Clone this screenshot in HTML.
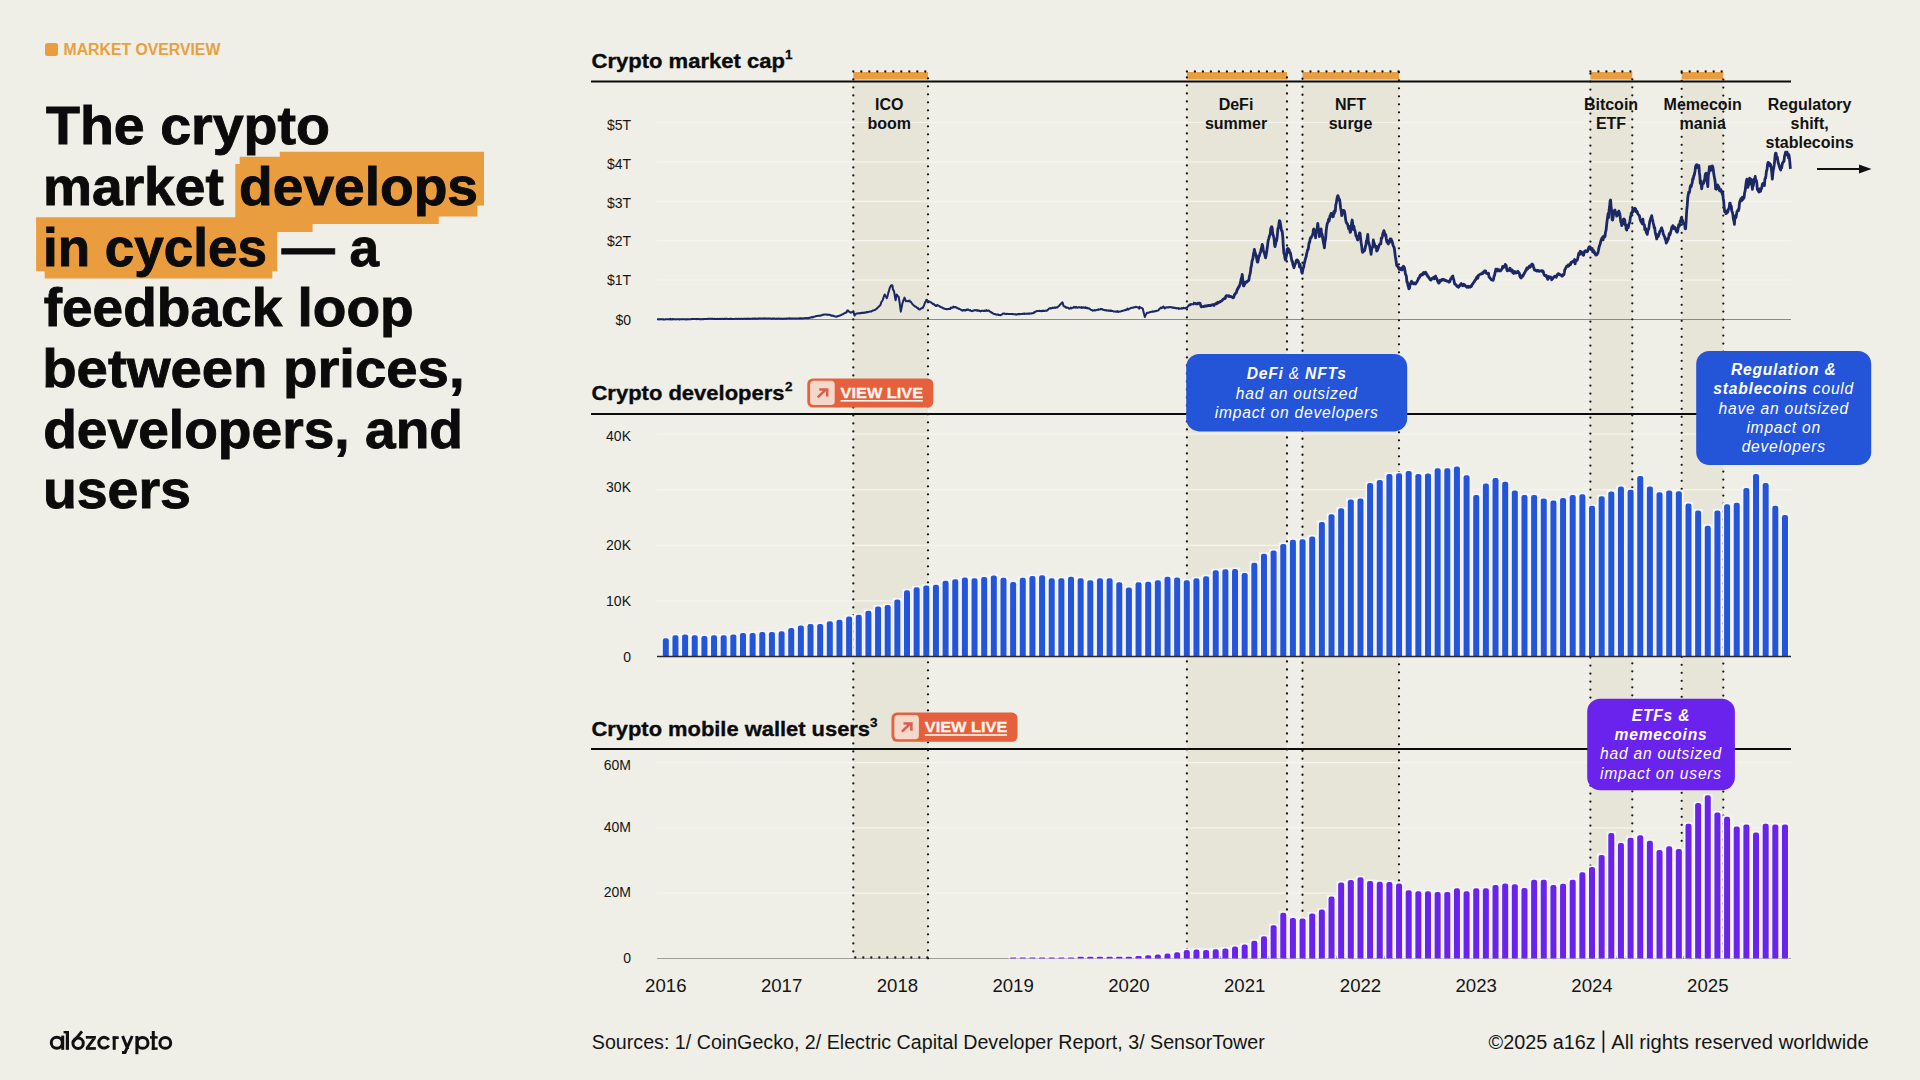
<!DOCTYPE html><html><head><meta charset="utf-8"><style>
html,body{margin:0;padding:0;width:1920px;height:1080px;overflow:hidden;background:#EFEEE7;}
svg{position:absolute;left:0;top:0;} text{font-family:"Liberation Sans", sans-serif;}
</style></head><body>
<svg width="1920" height="1080" viewBox="0 0 1920 1080">
<rect x="45" y="43" width="13" height="13" rx="2.5" fill="#EA9D3E"/>
<text x="63.5" y="55.3" font-size="15.8" font-weight="700" fill="#E9A03E">MARKET OVERVIEW</text>
<polygon points="279.8,151.7 484.0,151.7 484.0,205.6 477.4,205.6 477.4,216.6 438.8,216.6 438.8,223.9 312.6,223.9 312.6,232.0 277.2,232.0 277.2,271.2 272.3,271.2 272.3,278.5 44.7,278.5 44.7,271.2 36.1,271.2 36.1,217.3 235.3,217.3 235.3,164.0 239.7,164.0 239.7,156.8 279.8,156.8" fill="#EA9D3E"/>
<text x="46.0" y="144.3" font-size="54.5" font-weight="700" textLength="284.0" lengthAdjust="spacingAndGlyphs" stroke="#0B0B0B" stroke-width="0.9" fill="#0B0B0B">The crypto</text>
<text x="43.0" y="205.0" font-size="54.5" font-weight="700" textLength="435.0" lengthAdjust="spacingAndGlyphs" stroke="#0B0B0B" stroke-width="0.9" fill="#0B0B0B">market develops</text>
<text x="43.0" y="265.6" font-size="54.5" font-weight="700" textLength="336.0" lengthAdjust="spacingAndGlyphs" stroke="#0B0B0B" stroke-width="0.9" fill="#0B0B0B">in cycles — a</text>
<text x="43.7" y="326.3" font-size="54.5" font-weight="700" textLength="370.0" lengthAdjust="spacingAndGlyphs" stroke="#0B0B0B" stroke-width="0.9" fill="#0B0B0B">feedback loop</text>
<text x="42.2" y="387.0" font-size="54.5" font-weight="700" textLength="422.4" lengthAdjust="spacingAndGlyphs" stroke="#0B0B0B" stroke-width="0.9" fill="#0B0B0B">between prices,</text>
<text x="43.2" y="447.7" font-size="54.5" font-weight="700" textLength="419.8" lengthAdjust="spacingAndGlyphs" stroke="#0B0B0B" stroke-width="0.9" fill="#0B0B0B">developers, and</text>
<text x="42.9" y="508.3" font-size="54.5" font-weight="700" textLength="148.0" lengthAdjust="spacingAndGlyphs" stroke="#0B0B0B" stroke-width="0.9" fill="#0B0B0B">users</text>
<rect x="853.3" y="82" width="74.7" height="876.5" fill="#E7E5D8"/>
<rect x="1186.9" y="82" width="100.1" height="876.5" fill="#E7E5D8"/>
<rect x="1302.5" y="82" width="96.5" height="876.5" fill="#E7E5D8"/>
<rect x="1590.4" y="82" width="41.9" height="876.5" fill="#E7E5D8"/>
<rect x="1681.7" y="82" width="41.6" height="876.5" fill="#E7E5D8"/>
<line x1="657" y1="280.1" x2="1791" y2="280.1" stroke="#F5F4EE" stroke-width="1.2"/>
<line x1="657" y1="240.7" x2="1791" y2="240.7" stroke="#F5F4EE" stroke-width="1.2"/>
<line x1="657" y1="201.3" x2="1791" y2="201.3" stroke="#F5F4EE" stroke-width="1.2"/>
<line x1="657" y1="161.9" x2="1791" y2="161.9" stroke="#F5F4EE" stroke-width="1.2"/>
<line x1="657" y1="122.5" x2="1791" y2="122.5" stroke="#F5F4EE" stroke-width="1.2"/>
<line x1="657" y1="600.9" x2="1791" y2="600.9" stroke="#F5F4EE" stroke-width="1.2"/>
<line x1="657" y1="545.3" x2="1791" y2="545.3" stroke="#F5F4EE" stroke-width="1.2"/>
<line x1="657" y1="489.7" x2="1791" y2="489.7" stroke="#F5F4EE" stroke-width="1.2"/>
<line x1="657" y1="434.1" x2="1791" y2="434.1" stroke="#F5F4EE" stroke-width="1.2"/>
<line x1="657" y1="893.2" x2="1791" y2="893.2" stroke="#F5F4EE" stroke-width="1.2"/>
<line x1="657" y1="827.9" x2="1791" y2="827.9" stroke="#F5F4EE" stroke-width="1.2"/>
<line x1="657" y1="762.6" x2="1791" y2="762.6" stroke="#F5F4EE" stroke-width="1.2"/>
<line x1="657" y1="319.5" x2="1791" y2="319.5" stroke="#8C8A84" stroke-width="1.0"/>
<line x1="657" y1="958.5" x2="1791" y2="958.5" stroke="#A09E98" stroke-width="1.2"/>
<line x1="591" y1="81.5" x2="1791" y2="81.5" stroke="#0B0B0B" stroke-width="2.2"/>
<line x1="591" y1="414.0" x2="1791" y2="414.0" stroke="#0B0B0B" stroke-width="2.2"/>
<line x1="591" y1="749.0" x2="1791" y2="749.0" stroke="#0B0B0B" stroke-width="2.2"/>
<text x="889.3" y="109.5" font-size="16" font-weight="700" text-anchor="middle" fill="#111">ICO</text>
<text x="889.3" y="128.7" font-size="16" font-weight="700" text-anchor="middle" fill="#111">boom</text>
<text x="1236.0" y="109.5" font-size="16" font-weight="700" text-anchor="middle" fill="#111">DeFi</text>
<text x="1236.0" y="128.7" font-size="16" font-weight="700" text-anchor="middle" fill="#111">summer</text>
<text x="1350.5" y="109.5" font-size="16" font-weight="700" text-anchor="middle" fill="#111">NFT</text>
<text x="1350.5" y="128.7" font-size="16" font-weight="700" text-anchor="middle" fill="#111">surge</text>
<text x="1611.0" y="109.5" font-size="16" font-weight="700" text-anchor="middle" fill="#111">Bitcoin</text>
<text x="1611.0" y="128.7" font-size="16" font-weight="700" text-anchor="middle" fill="#111">ETF</text>
<text x="1702.7" y="109.5" font-size="16" font-weight="700" text-anchor="middle" fill="#111">Memecoin</text>
<text x="1702.7" y="128.7" font-size="16" font-weight="700" text-anchor="middle" fill="#111">mania</text>
<text x="1809.6" y="109.5" font-size="16" font-weight="700" text-anchor="middle" fill="#111">Regulatory</text>
<text x="1809.6" y="128.7" font-size="16" font-weight="700" text-anchor="middle" fill="#111">shift,</text>
<text x="1809.6" y="147.9" font-size="16" font-weight="700" text-anchor="middle" fill="#111">stablecoins</text>
<rect x="853.3" y="72" width="74.7" height="7.5" fill="#EA9D3E"/>
<line x1="853.3" y1="79.40" x2="853.3" y2="958.5" stroke="#1A1A1A" stroke-width="2.3" stroke-linecap="round" stroke-dasharray="0 8"/>
<line x1="928.0" y1="78.30" x2="928.0" y2="958.5" stroke="#1A1A1A" stroke-width="2.3" stroke-linecap="round" stroke-dasharray="0 8"/>
<line x1="853.3" y1="71.5" x2="928.0" y2="71.5" stroke="#1A1A1A" stroke-width="2.3" stroke-linecap="round" stroke-dasharray="0 8"/>
<line x1="855.3" y1="957.5" x2="928.0" y2="957.5" stroke="#1A1A1A" stroke-width="2.3" stroke-linecap="round" stroke-dasharray="0 8"/>
<rect x="1186.9" y="72" width="100.1" height="7.5" fill="#EA9D3E"/>
<line x1="1186.9" y1="77.40" x2="1186.9" y2="958.5" stroke="#1A1A1A" stroke-width="2.3" stroke-linecap="round" stroke-dasharray="0 8"/>
<line x1="1287.0" y1="77.50" x2="1287.0" y2="958.5" stroke="#1A1A1A" stroke-width="2.3" stroke-linecap="round" stroke-dasharray="0 8"/>
<line x1="1186.9" y1="71.5" x2="1287.0" y2="71.5" stroke="#1A1A1A" stroke-width="2.3" stroke-linecap="round" stroke-dasharray="0 8"/>
<line x1="1188.9" y1="957.5" x2="1287.0" y2="957.5" stroke="#1A1A1A" stroke-width="2.3" stroke-linecap="round" stroke-dasharray="0 8"/>
<rect x="1302.5" y="72" width="96.5" height="7.5" fill="#EA9D3E"/>
<line x1="1302.5" y1="78.75" x2="1302.5" y2="958.5" stroke="#1A1A1A" stroke-width="2.3" stroke-linecap="round" stroke-dasharray="0 8"/>
<line x1="1399.0" y1="72.35" x2="1399.0" y2="958.5" stroke="#1A1A1A" stroke-width="2.3" stroke-linecap="round" stroke-dasharray="0 8"/>
<line x1="1302.5" y1="71.5" x2="1399.0" y2="71.5" stroke="#1A1A1A" stroke-width="2.3" stroke-linecap="round" stroke-dasharray="0 8"/>
<line x1="1304.5" y1="957.5" x2="1399.0" y2="957.5" stroke="#1A1A1A" stroke-width="2.3" stroke-linecap="round" stroke-dasharray="0 8"/>
<rect x="1590.4" y="72" width="41.9" height="7.5" fill="#EA9D3E"/>
<line x1="1590.4" y1="73.55" x2="1590.4" y2="958.5" stroke="#1A1A1A" stroke-width="2.3" stroke-linecap="round" stroke-dasharray="0 8"/>
<line x1="1632.3" y1="79.35" x2="1632.3" y2="958.5" stroke="#1A1A1A" stroke-width="2.3" stroke-linecap="round" stroke-dasharray="0 8"/>
<line x1="1590.4" y1="71.5" x2="1632.3" y2="71.5" stroke="#1A1A1A" stroke-width="2.3" stroke-linecap="round" stroke-dasharray="0 8"/>
<line x1="1592.4" y1="957.5" x2="1632.3" y2="957.5" stroke="#1A1A1A" stroke-width="2.3" stroke-linecap="round" stroke-dasharray="0 8"/>
<rect x="1681.7" y="72" width="41.6" height="7.5" fill="#EA9D3E"/>
<line x1="1681.7" y1="72.85" x2="1681.7" y2="958.5" stroke="#1A1A1A" stroke-width="2.3" stroke-linecap="round" stroke-dasharray="0 8"/>
<line x1="1723.3" y1="79.60" x2="1723.3" y2="958.5" stroke="#1A1A1A" stroke-width="2.3" stroke-linecap="round" stroke-dasharray="0 8"/>
<line x1="1681.7" y1="71.5" x2="1723.3" y2="71.5" stroke="#1A1A1A" stroke-width="2.3" stroke-linecap="round" stroke-dasharray="0 8"/>
<line x1="1683.7" y1="957.5" x2="1723.3" y2="957.5" stroke="#1A1A1A" stroke-width="2.3" stroke-linecap="round" stroke-dasharray="0 8"/>
<g fill="#F4F6FB">
<rect x="661.10" y="636.90" width="9.40" height="19.60"/>
<rect x="670.75" y="633.80" width="9.40" height="22.70"/>
<rect x="680.40" y="633.00" width="9.40" height="23.50"/>
<rect x="690.04" y="633.80" width="9.40" height="22.70"/>
<rect x="699.69" y="634.60" width="9.40" height="21.90"/>
<rect x="709.34" y="633.80" width="9.40" height="22.70"/>
<rect x="718.99" y="633.80" width="9.40" height="22.70"/>
<rect x="728.64" y="633.00" width="9.40" height="23.50"/>
<rect x="738.28" y="631.50" width="9.40" height="25.00"/>
<rect x="747.93" y="631.50" width="9.40" height="25.00"/>
<rect x="757.58" y="630.70" width="9.40" height="25.80"/>
<rect x="767.23" y="630.70" width="9.40" height="25.80"/>
<rect x="776.88" y="629.90" width="9.40" height="26.60"/>
<rect x="786.52" y="626.70" width="9.40" height="29.80"/>
<rect x="796.17" y="624.20" width="9.40" height="32.30"/>
<rect x="805.82" y="622.60" width="9.40" height="33.90"/>
<rect x="815.47" y="622.60" width="9.40" height="33.90"/>
<rect x="825.12" y="619.90" width="9.40" height="36.60"/>
<rect x="834.76" y="618.40" width="9.40" height="38.10"/>
<rect x="844.41" y="615.00" width="9.40" height="41.50"/>
<rect x="854.06" y="613.30" width="9.40" height="43.20"/>
<rect x="863.71" y="609.40" width="9.40" height="47.10"/>
<rect x="873.36" y="605.00" width="9.40" height="51.50"/>
<rect x="883.00" y="603.60" width="9.40" height="52.90"/>
<rect x="892.65" y="598.00" width="9.40" height="58.50"/>
<rect x="902.30" y="588.80" width="9.40" height="67.70"/>
<rect x="911.95" y="585.90" width="9.40" height="70.60"/>
<rect x="921.60" y="584.10" width="9.40" height="72.40"/>
<rect x="931.24" y="583.40" width="9.40" height="73.10"/>
<rect x="940.89" y="579.40" width="9.40" height="77.10"/>
<rect x="950.54" y="577.90" width="9.40" height="78.60"/>
<rect x="960.19" y="576.10" width="9.40" height="80.40"/>
<rect x="969.84" y="576.90" width="9.40" height="79.60"/>
<rect x="979.48" y="575.50" width="9.40" height="81.00"/>
<rect x="989.13" y="574.00" width="9.40" height="82.50"/>
<rect x="998.78" y="576.30" width="9.40" height="80.20"/>
<rect x="1008.43" y="580.70" width="9.40" height="75.80"/>
<rect x="1018.08" y="576.30" width="9.40" height="80.20"/>
<rect x="1027.72" y="574.70" width="9.40" height="81.80"/>
<rect x="1037.37" y="573.90" width="9.40" height="82.60"/>
<rect x="1047.02" y="576.90" width="9.40" height="79.60"/>
<rect x="1056.67" y="576.90" width="9.40" height="79.60"/>
<rect x="1066.32" y="575.40" width="9.40" height="81.10"/>
<rect x="1075.96" y="576.90" width="9.40" height="79.60"/>
<rect x="1085.61" y="578.80" width="9.40" height="77.70"/>
<rect x="1095.26" y="576.90" width="9.40" height="79.60"/>
<rect x="1104.91" y="576.90" width="9.40" height="79.60"/>
<rect x="1114.56" y="580.90" width="9.40" height="75.60"/>
<rect x="1124.20" y="586.10" width="9.40" height="70.40"/>
<rect x="1133.85" y="580.90" width="9.40" height="75.60"/>
<rect x="1143.50" y="580.30" width="9.40" height="76.20"/>
<rect x="1153.15" y="578.80" width="9.40" height="77.70"/>
<rect x="1162.80" y="575.40" width="9.40" height="81.10"/>
<rect x="1172.44" y="576.20" width="9.40" height="80.30"/>
<rect x="1182.09" y="578.80" width="9.40" height="77.70"/>
<rect x="1191.74" y="576.90" width="9.40" height="79.60"/>
<rect x="1201.39" y="574.85" width="9.40" height="81.65"/>
<rect x="1211.04" y="568.80" width="9.40" height="87.70"/>
<rect x="1220.68" y="567.80" width="9.40" height="88.70"/>
<rect x="1230.33" y="567.70" width="9.40" height="88.80"/>
<rect x="1239.98" y="571.70" width="9.40" height="84.80"/>
<rect x="1249.63" y="561.40" width="9.40" height="95.10"/>
<rect x="1259.28" y="552.30" width="9.40" height="104.20"/>
<rect x="1268.92" y="549.10" width="9.40" height="107.40"/>
<rect x="1278.57" y="542.60" width="9.40" height="113.90"/>
<rect x="1288.22" y="538.30" width="9.40" height="118.20"/>
<rect x="1297.87" y="537.80" width="9.40" height="118.70"/>
<rect x="1307.52" y="535.20" width="9.40" height="121.30"/>
<rect x="1317.16" y="520.50" width="9.40" height="136.00"/>
<rect x="1326.81" y="512.80" width="9.40" height="143.70"/>
<rect x="1336.46" y="506.90" width="9.40" height="149.60"/>
<rect x="1346.11" y="498.10" width="9.40" height="158.40"/>
<rect x="1355.76" y="497.20" width="9.40" height="159.30"/>
<rect x="1365.40" y="481.60" width="9.40" height="174.90"/>
<rect x="1375.05" y="478.70" width="9.40" height="177.80"/>
<rect x="1384.70" y="472.60" width="9.40" height="183.90"/>
<rect x="1394.35" y="471.90" width="9.40" height="184.60"/>
<rect x="1404.00" y="469.60" width="9.40" height="186.90"/>
<rect x="1413.64" y="472.70" width="9.40" height="183.80"/>
<rect x="1423.29" y="472.00" width="9.40" height="184.50"/>
<rect x="1432.94" y="466.80" width="9.40" height="189.70"/>
<rect x="1442.59" y="466.80" width="9.40" height="189.70"/>
<rect x="1452.24" y="465.10" width="9.40" height="191.40"/>
<rect x="1461.88" y="473.80" width="9.40" height="182.70"/>
<rect x="1471.53" y="493.60" width="9.40" height="162.90"/>
<rect x="1481.18" y="482.10" width="9.40" height="174.40"/>
<rect x="1490.83" y="476.70" width="9.40" height="179.80"/>
<rect x="1500.48" y="480.40" width="9.40" height="176.10"/>
<rect x="1510.12" y="489.00" width="9.40" height="167.50"/>
<rect x="1519.77" y="493.60" width="9.40" height="162.90"/>
<rect x="1529.42" y="493.60" width="9.40" height="162.90"/>
<rect x="1539.07" y="497.00" width="9.40" height="159.50"/>
<rect x="1548.72" y="499.10" width="9.40" height="157.40"/>
<rect x="1558.36" y="496.70" width="9.40" height="159.80"/>
<rect x="1568.01" y="493.60" width="9.40" height="162.90"/>
<rect x="1577.66" y="492.90" width="9.40" height="163.60"/>
<rect x="1587.31" y="504.30" width="9.40" height="152.20"/>
<rect x="1596.96" y="494.90" width="9.40" height="161.60"/>
<rect x="1606.60" y="490.00" width="9.40" height="166.50"/>
<rect x="1616.25" y="485.20" width="9.40" height="171.30"/>
<rect x="1625.90" y="488.30" width="9.40" height="168.20"/>
<rect x="1635.55" y="474.70" width="9.40" height="181.80"/>
<rect x="1645.20" y="485.20" width="9.40" height="171.30"/>
<rect x="1654.84" y="490.90" width="9.40" height="165.60"/>
<rect x="1664.49" y="489.00" width="9.40" height="167.50"/>
<rect x="1674.14" y="489.85" width="9.40" height="166.65"/>
<rect x="1683.79" y="502.10" width="9.40" height="154.40"/>
<rect x="1693.44" y="509.10" width="9.40" height="147.40"/>
<rect x="1703.08" y="524.40" width="9.40" height="132.10"/>
<rect x="1712.73" y="509.10" width="9.40" height="147.40"/>
<rect x="1722.38" y="502.90" width="9.40" height="153.60"/>
<rect x="1732.03" y="501.30" width="9.40" height="155.20"/>
<rect x="1741.68" y="486.50" width="9.40" height="170.00"/>
<rect x="1751.32" y="472.70" width="9.40" height="183.80"/>
<rect x="1760.97" y="481.70" width="9.40" height="174.80"/>
<rect x="1770.62" y="504.40" width="9.40" height="152.10"/>
<rect x="1780.27" y="513.60" width="9.40" height="142.90"/>
<rect x="1008.43" y="956.10" width="9.40" height="2.40"/>
<rect x="1018.08" y="956.10" width="9.40" height="2.40"/>
<rect x="1027.72" y="956.10" width="9.40" height="2.40"/>
<rect x="1037.37" y="956.10" width="9.40" height="2.40"/>
<rect x="1047.02" y="956.10" width="9.40" height="2.40"/>
<rect x="1056.67" y="956.10" width="9.40" height="2.40"/>
<rect x="1066.32" y="956.10" width="9.40" height="2.40"/>
<rect x="1075.96" y="955.30" width="9.40" height="3.20"/>
<rect x="1085.61" y="955.30" width="9.40" height="3.20"/>
<rect x="1095.26" y="955.30" width="9.40" height="3.20"/>
<rect x="1104.91" y="955.30" width="9.40" height="3.20"/>
<rect x="1114.56" y="955.30" width="9.40" height="3.20"/>
<rect x="1124.20" y="955.30" width="9.40" height="3.20"/>
<rect x="1133.85" y="954.60" width="9.40" height="3.90"/>
<rect x="1143.50" y="953.80" width="9.40" height="4.70"/>
<rect x="1153.15" y="953.10" width="9.40" height="5.40"/>
<rect x="1162.80" y="952.20" width="9.40" height="6.30"/>
<rect x="1172.44" y="950.85" width="9.40" height="7.65"/>
<rect x="1182.09" y="948.60" width="9.40" height="9.90"/>
<rect x="1191.74" y="948.10" width="9.40" height="10.40"/>
<rect x="1201.39" y="948.50" width="9.40" height="10.00"/>
<rect x="1211.04" y="947.80" width="9.40" height="10.70"/>
<rect x="1220.68" y="947.00" width="9.40" height="11.50"/>
<rect x="1230.33" y="945.20" width="9.40" height="13.30"/>
<rect x="1239.98" y="943.10" width="9.40" height="15.40"/>
<rect x="1249.63" y="939.40" width="9.40" height="19.10"/>
<rect x="1259.28" y="934.90" width="9.40" height="23.60"/>
<rect x="1268.92" y="923.80" width="9.40" height="34.70"/>
<rect x="1278.57" y="911.30" width="9.40" height="47.20"/>
<rect x="1288.22" y="916.50" width="9.40" height="42.00"/>
<rect x="1297.87" y="917.00" width="9.40" height="41.50"/>
<rect x="1307.52" y="912.00" width="9.40" height="46.50"/>
<rect x="1317.16" y="908.10" width="9.40" height="50.40"/>
<rect x="1326.81" y="895.10" width="9.40" height="63.40"/>
<rect x="1336.46" y="881.10" width="9.40" height="77.40"/>
<rect x="1346.11" y="878.70" width="9.40" height="79.80"/>
<rect x="1355.76" y="875.90" width="9.40" height="82.60"/>
<rect x="1365.40" y="879.50" width="9.40" height="79.00"/>
<rect x="1375.05" y="880.30" width="9.40" height="78.20"/>
<rect x="1384.70" y="880.60" width="9.40" height="77.90"/>
<rect x="1394.35" y="882.10" width="9.40" height="76.40"/>
<rect x="1404.00" y="888.90" width="9.40" height="69.60"/>
<rect x="1413.64" y="889.90" width="9.40" height="68.60"/>
<rect x="1423.29" y="889.90" width="9.40" height="68.60"/>
<rect x="1432.94" y="890.50" width="9.40" height="68.00"/>
<rect x="1442.59" y="890.50" width="9.40" height="68.00"/>
<rect x="1452.24" y="886.80" width="9.40" height="71.70"/>
<rect x="1461.88" y="889.90" width="9.40" height="68.60"/>
<rect x="1471.53" y="886.80" width="9.40" height="71.70"/>
<rect x="1481.18" y="886.80" width="9.40" height="71.70"/>
<rect x="1490.83" y="883.50" width="9.40" height="75.00"/>
<rect x="1500.48" y="882.10" width="9.40" height="76.40"/>
<rect x="1510.12" y="882.90" width="9.40" height="75.60"/>
<rect x="1519.77" y="886.60" width="9.40" height="71.90"/>
<rect x="1529.42" y="878.30" width="9.40" height="80.20"/>
<rect x="1539.07" y="878.30" width="9.40" height="80.20"/>
<rect x="1548.72" y="883.70" width="9.40" height="74.80"/>
<rect x="1558.36" y="882.30" width="9.40" height="76.20"/>
<rect x="1568.01" y="878.30" width="9.40" height="80.20"/>
<rect x="1577.66" y="870.90" width="9.40" height="87.60"/>
<rect x="1587.31" y="865.50" width="9.40" height="93.00"/>
<rect x="1596.96" y="853.50" width="9.40" height="105.00"/>
<rect x="1606.60" y="831.50" width="9.40" height="127.00"/>
<rect x="1616.25" y="841.50" width="9.40" height="117.00"/>
<rect x="1625.90" y="836.30" width="9.40" height="122.20"/>
<rect x="1635.55" y="833.80" width="9.40" height="124.70"/>
<rect x="1645.20" y="839.40" width="9.40" height="119.10"/>
<rect x="1654.84" y="848.70" width="9.40" height="109.80"/>
<rect x="1664.49" y="844.90" width="9.40" height="113.60"/>
<rect x="1674.14" y="847.50" width="9.40" height="111.00"/>
<rect x="1683.79" y="822.30" width="9.40" height="136.20"/>
<rect x="1693.44" y="801.70" width="9.40" height="156.80"/>
<rect x="1703.08" y="793.90" width="9.40" height="164.60"/>
<rect x="1712.73" y="811.00" width="9.40" height="147.50"/>
<rect x="1722.38" y="815.40" width="9.40" height="143.10"/>
<rect x="1732.03" y="825.20" width="9.40" height="133.30"/>
<rect x="1741.68" y="823.00" width="9.40" height="135.50"/>
<rect x="1751.32" y="831.20" width="9.40" height="127.30"/>
<rect x="1760.97" y="822.30" width="9.40" height="136.20"/>
<rect x="1770.62" y="823.00" width="9.40" height="135.50"/>
<rect x="1780.27" y="823.00" width="9.40" height="135.50"/>
</g>
<path d="M662.80 656.50 V640.50 Q662.80 638.30 665.00 638.30 H666.60 Q668.80 638.30 668.80 640.50 V656.50 Z" fill="#2455D9"/>
<path d="M672.45 656.50 V637.40 Q672.45 635.20 674.65 635.20 H676.25 Q678.45 635.20 678.45 637.40 V656.50 Z" fill="#2455D9"/>
<path d="M682.10 656.50 V636.60 Q682.10 634.40 684.30 634.40 H685.90 Q688.10 634.40 688.10 636.60 V656.50 Z" fill="#2455D9"/>
<path d="M691.74 656.50 V637.40 Q691.74 635.20 693.94 635.20 H695.54 Q697.74 635.20 697.74 637.40 V656.50 Z" fill="#2455D9"/>
<path d="M701.39 656.50 V638.20 Q701.39 636.00 703.59 636.00 H705.19 Q707.39 636.00 707.39 638.20 V656.50 Z" fill="#2455D9"/>
<path d="M711.04 656.50 V637.40 Q711.04 635.20 713.24 635.20 H714.84 Q717.04 635.20 717.04 637.40 V656.50 Z" fill="#2455D9"/>
<path d="M720.69 656.50 V637.40 Q720.69 635.20 722.89 635.20 H724.49 Q726.69 635.20 726.69 637.40 V656.50 Z" fill="#2455D9"/>
<path d="M730.34 656.50 V636.60 Q730.34 634.40 732.54 634.40 H734.14 Q736.34 634.40 736.34 636.60 V656.50 Z" fill="#2455D9"/>
<path d="M739.98 656.50 V635.10 Q739.98 632.90 742.18 632.90 H743.78 Q745.98 632.90 745.98 635.10 V656.50 Z" fill="#2455D9"/>
<path d="M749.63 656.50 V635.10 Q749.63 632.90 751.83 632.90 H753.43 Q755.63 632.90 755.63 635.10 V656.50 Z" fill="#2455D9"/>
<path d="M759.28 656.50 V634.30 Q759.28 632.10 761.48 632.10 H763.08 Q765.28 632.10 765.28 634.30 V656.50 Z" fill="#2455D9"/>
<path d="M768.93 656.50 V634.30 Q768.93 632.10 771.13 632.10 H772.73 Q774.93 632.10 774.93 634.30 V656.50 Z" fill="#2455D9"/>
<path d="M778.58 656.50 V633.50 Q778.58 631.30 780.78 631.30 H782.38 Q784.58 631.30 784.58 633.50 V656.50 Z" fill="#2455D9"/>
<path d="M788.22 656.50 V630.30 Q788.22 628.10 790.42 628.10 H792.02 Q794.22 628.10 794.22 630.30 V656.50 Z" fill="#2455D9"/>
<path d="M797.87 656.50 V627.80 Q797.87 625.60 800.07 625.60 H801.67 Q803.87 625.60 803.87 627.80 V656.50 Z" fill="#2455D9"/>
<path d="M807.52 656.50 V626.20 Q807.52 624.00 809.72 624.00 H811.32 Q813.52 624.00 813.52 626.20 V656.50 Z" fill="#2455D9"/>
<path d="M817.17 656.50 V626.20 Q817.17 624.00 819.37 624.00 H820.97 Q823.17 624.00 823.17 626.20 V656.50 Z" fill="#2455D9"/>
<path d="M826.82 656.50 V623.50 Q826.82 621.30 829.02 621.30 H830.62 Q832.82 621.30 832.82 623.50 V656.50 Z" fill="#2455D9"/>
<path d="M836.46 656.50 V622.00 Q836.46 619.80 838.66 619.80 H840.26 Q842.46 619.80 842.46 622.00 V656.50 Z" fill="#2455D9"/>
<path d="M846.11 656.50 V618.60 Q846.11 616.40 848.31 616.40 H849.91 Q852.11 616.40 852.11 618.60 V656.50 Z" fill="#2455D9"/>
<path d="M855.76 656.50 V616.90 Q855.76 614.70 857.96 614.70 H859.56 Q861.76 614.70 861.76 616.90 V656.50 Z" fill="#2455D9"/>
<path d="M865.41 656.50 V613.00 Q865.41 610.80 867.61 610.80 H869.21 Q871.41 610.80 871.41 613.00 V656.50 Z" fill="#2455D9"/>
<path d="M875.06 656.50 V608.60 Q875.06 606.40 877.26 606.40 H878.86 Q881.06 606.40 881.06 608.60 V656.50 Z" fill="#2455D9"/>
<path d="M884.70 656.50 V607.20 Q884.70 605.00 886.90 605.00 H888.50 Q890.70 605.00 890.70 607.20 V656.50 Z" fill="#2455D9"/>
<path d="M894.35 656.50 V601.60 Q894.35 599.40 896.55 599.40 H898.15 Q900.35 599.40 900.35 601.60 V656.50 Z" fill="#2455D9"/>
<path d="M904.00 656.50 V592.40 Q904.00 590.20 906.20 590.20 H907.80 Q910.00 590.20 910.00 592.40 V656.50 Z" fill="#2455D9"/>
<path d="M913.65 656.50 V589.50 Q913.65 587.30 915.85 587.30 H917.45 Q919.65 587.30 919.65 589.50 V656.50 Z" fill="#2455D9"/>
<path d="M923.30 656.50 V587.70 Q923.30 585.50 925.50 585.50 H927.10 Q929.30 585.50 929.30 587.70 V656.50 Z" fill="#2455D9"/>
<path d="M932.94 656.50 V587.00 Q932.94 584.80 935.14 584.80 H936.74 Q938.94 584.80 938.94 587.00 V656.50 Z" fill="#2455D9"/>
<path d="M942.59 656.50 V583.00 Q942.59 580.80 944.79 580.80 H946.39 Q948.59 580.80 948.59 583.00 V656.50 Z" fill="#2455D9"/>
<path d="M952.24 656.50 V581.50 Q952.24 579.30 954.44 579.30 H956.04 Q958.24 579.30 958.24 581.50 V656.50 Z" fill="#2455D9"/>
<path d="M961.89 656.50 V579.70 Q961.89 577.50 964.09 577.50 H965.69 Q967.89 577.50 967.89 579.70 V656.50 Z" fill="#2455D9"/>
<path d="M971.54 656.50 V580.50 Q971.54 578.30 973.74 578.30 H975.34 Q977.54 578.30 977.54 580.50 V656.50 Z" fill="#2455D9"/>
<path d="M981.18 656.50 V579.10 Q981.18 576.90 983.38 576.90 H984.98 Q987.18 576.90 987.18 579.10 V656.50 Z" fill="#2455D9"/>
<path d="M990.83 656.50 V577.60 Q990.83 575.40 993.03 575.40 H994.63 Q996.83 575.40 996.83 577.60 V656.50 Z" fill="#2455D9"/>
<path d="M1000.48 656.50 V579.90 Q1000.48 577.70 1002.68 577.70 H1004.28 Q1006.48 577.70 1006.48 579.90 V656.50 Z" fill="#2455D9"/>
<path d="M1010.13 656.50 V584.30 Q1010.13 582.10 1012.33 582.10 H1013.93 Q1016.13 582.10 1016.13 584.30 V656.50 Z" fill="#2455D9"/>
<path d="M1019.78 656.50 V579.90 Q1019.78 577.70 1021.98 577.70 H1023.58 Q1025.78 577.70 1025.78 579.90 V656.50 Z" fill="#2455D9"/>
<path d="M1029.42 656.50 V578.30 Q1029.42 576.10 1031.62 576.10 H1033.22 Q1035.42 576.10 1035.42 578.30 V656.50 Z" fill="#2455D9"/>
<path d="M1039.07 656.50 V577.50 Q1039.07 575.30 1041.27 575.30 H1042.87 Q1045.07 575.30 1045.07 577.50 V656.50 Z" fill="#2455D9"/>
<path d="M1048.72 656.50 V580.50 Q1048.72 578.30 1050.92 578.30 H1052.52 Q1054.72 578.30 1054.72 580.50 V656.50 Z" fill="#2455D9"/>
<path d="M1058.37 656.50 V580.50 Q1058.37 578.30 1060.57 578.30 H1062.17 Q1064.37 578.30 1064.37 580.50 V656.50 Z" fill="#2455D9"/>
<path d="M1068.02 656.50 V579.00 Q1068.02 576.80 1070.22 576.80 H1071.82 Q1074.02 576.80 1074.02 579.00 V656.50 Z" fill="#2455D9"/>
<path d="M1077.66 656.50 V580.50 Q1077.66 578.30 1079.86 578.30 H1081.46 Q1083.66 578.30 1083.66 580.50 V656.50 Z" fill="#2455D9"/>
<path d="M1087.31 656.50 V582.40 Q1087.31 580.20 1089.51 580.20 H1091.11 Q1093.31 580.20 1093.31 582.40 V656.50 Z" fill="#2455D9"/>
<path d="M1096.96 656.50 V580.50 Q1096.96 578.30 1099.16 578.30 H1100.76 Q1102.96 578.30 1102.96 580.50 V656.50 Z" fill="#2455D9"/>
<path d="M1106.61 656.50 V580.50 Q1106.61 578.30 1108.81 578.30 H1110.41 Q1112.61 578.30 1112.61 580.50 V656.50 Z" fill="#2455D9"/>
<path d="M1116.26 656.50 V584.50 Q1116.26 582.30 1118.46 582.30 H1120.06 Q1122.26 582.30 1122.26 584.50 V656.50 Z" fill="#2455D9"/>
<path d="M1125.90 656.50 V589.70 Q1125.90 587.50 1128.10 587.50 H1129.70 Q1131.90 587.50 1131.90 589.70 V656.50 Z" fill="#2455D9"/>
<path d="M1135.55 656.50 V584.50 Q1135.55 582.30 1137.75 582.30 H1139.35 Q1141.55 582.30 1141.55 584.50 V656.50 Z" fill="#2455D9"/>
<path d="M1145.20 656.50 V583.90 Q1145.20 581.70 1147.40 581.70 H1149.00 Q1151.20 581.70 1151.20 583.90 V656.50 Z" fill="#2455D9"/>
<path d="M1154.85 656.50 V582.40 Q1154.85 580.20 1157.05 580.20 H1158.65 Q1160.85 580.20 1160.85 582.40 V656.50 Z" fill="#2455D9"/>
<path d="M1164.50 656.50 V579.00 Q1164.50 576.80 1166.70 576.80 H1168.30 Q1170.50 576.80 1170.50 579.00 V656.50 Z" fill="#2455D9"/>
<path d="M1174.14 656.50 V579.80 Q1174.14 577.60 1176.34 577.60 H1177.94 Q1180.14 577.60 1180.14 579.80 V656.50 Z" fill="#2455D9"/>
<path d="M1183.79 656.50 V582.40 Q1183.79 580.20 1185.99 580.20 H1187.59 Q1189.79 580.20 1189.79 582.40 V656.50 Z" fill="#2455D9"/>
<path d="M1193.44 656.50 V580.50 Q1193.44 578.30 1195.64 578.30 H1197.24 Q1199.44 578.30 1199.44 580.50 V656.50 Z" fill="#2455D9"/>
<path d="M1203.09 656.50 V578.45 Q1203.09 576.25 1205.29 576.25 H1206.89 Q1209.09 576.25 1209.09 578.45 V656.50 Z" fill="#2455D9"/>
<path d="M1212.74 656.50 V572.40 Q1212.74 570.20 1214.94 570.20 H1216.54 Q1218.74 570.20 1218.74 572.40 V656.50 Z" fill="#2455D9"/>
<path d="M1222.38 656.50 V571.40 Q1222.38 569.20 1224.58 569.20 H1226.18 Q1228.38 569.20 1228.38 571.40 V656.50 Z" fill="#2455D9"/>
<path d="M1232.03 656.50 V571.30 Q1232.03 569.10 1234.23 569.10 H1235.83 Q1238.03 569.10 1238.03 571.30 V656.50 Z" fill="#2455D9"/>
<path d="M1241.68 656.50 V575.30 Q1241.68 573.10 1243.88 573.10 H1245.48 Q1247.68 573.10 1247.68 575.30 V656.50 Z" fill="#2455D9"/>
<path d="M1251.33 656.50 V565.00 Q1251.33 562.80 1253.53 562.80 H1255.13 Q1257.33 562.80 1257.33 565.00 V656.50 Z" fill="#2455D9"/>
<path d="M1260.98 656.50 V555.90 Q1260.98 553.70 1263.18 553.70 H1264.78 Q1266.98 553.70 1266.98 555.90 V656.50 Z" fill="#2455D9"/>
<path d="M1270.62 656.50 V552.70 Q1270.62 550.50 1272.82 550.50 H1274.42 Q1276.62 550.50 1276.62 552.70 V656.50 Z" fill="#2455D9"/>
<path d="M1280.27 656.50 V546.20 Q1280.27 544.00 1282.47 544.00 H1284.07 Q1286.27 544.00 1286.27 546.20 V656.50 Z" fill="#2455D9"/>
<path d="M1289.92 656.50 V541.90 Q1289.92 539.70 1292.12 539.70 H1293.72 Q1295.92 539.70 1295.92 541.90 V656.50 Z" fill="#2455D9"/>
<path d="M1299.57 656.50 V541.40 Q1299.57 539.20 1301.77 539.20 H1303.37 Q1305.57 539.20 1305.57 541.40 V656.50 Z" fill="#2455D9"/>
<path d="M1309.22 656.50 V538.80 Q1309.22 536.60 1311.42 536.60 H1313.02 Q1315.22 536.60 1315.22 538.80 V656.50 Z" fill="#2455D9"/>
<path d="M1318.86 656.50 V524.10 Q1318.86 521.90 1321.06 521.90 H1322.66 Q1324.86 521.90 1324.86 524.10 V656.50 Z" fill="#2455D9"/>
<path d="M1328.51 656.50 V516.40 Q1328.51 514.20 1330.71 514.20 H1332.31 Q1334.51 514.20 1334.51 516.40 V656.50 Z" fill="#2455D9"/>
<path d="M1338.16 656.50 V510.50 Q1338.16 508.30 1340.36 508.30 H1341.96 Q1344.16 508.30 1344.16 510.50 V656.50 Z" fill="#2455D9"/>
<path d="M1347.81 656.50 V501.70 Q1347.81 499.50 1350.01 499.50 H1351.61 Q1353.81 499.50 1353.81 501.70 V656.50 Z" fill="#2455D9"/>
<path d="M1357.46 656.50 V500.80 Q1357.46 498.60 1359.66 498.60 H1361.26 Q1363.46 498.60 1363.46 500.80 V656.50 Z" fill="#2455D9"/>
<path d="M1367.10 656.50 V485.20 Q1367.10 483.00 1369.30 483.00 H1370.90 Q1373.10 483.00 1373.10 485.20 V656.50 Z" fill="#2455D9"/>
<path d="M1376.75 656.50 V482.30 Q1376.75 480.10 1378.95 480.10 H1380.55 Q1382.75 480.10 1382.75 482.30 V656.50 Z" fill="#2455D9"/>
<path d="M1386.40 656.50 V476.20 Q1386.40 474.00 1388.60 474.00 H1390.20 Q1392.40 474.00 1392.40 476.20 V656.50 Z" fill="#2455D9"/>
<path d="M1396.05 656.50 V475.50 Q1396.05 473.30 1398.25 473.30 H1399.85 Q1402.05 473.30 1402.05 475.50 V656.50 Z" fill="#2455D9"/>
<path d="M1405.70 656.50 V473.20 Q1405.70 471.00 1407.90 471.00 H1409.50 Q1411.70 471.00 1411.70 473.20 V656.50 Z" fill="#2455D9"/>
<path d="M1415.34 656.50 V476.30 Q1415.34 474.10 1417.54 474.10 H1419.14 Q1421.34 474.10 1421.34 476.30 V656.50 Z" fill="#2455D9"/>
<path d="M1424.99 656.50 V475.60 Q1424.99 473.40 1427.19 473.40 H1428.79 Q1430.99 473.40 1430.99 475.60 V656.50 Z" fill="#2455D9"/>
<path d="M1434.64 656.50 V470.40 Q1434.64 468.20 1436.84 468.20 H1438.44 Q1440.64 468.20 1440.64 470.40 V656.50 Z" fill="#2455D9"/>
<path d="M1444.29 656.50 V470.40 Q1444.29 468.20 1446.49 468.20 H1448.09 Q1450.29 468.20 1450.29 470.40 V656.50 Z" fill="#2455D9"/>
<path d="M1453.94 656.50 V468.70 Q1453.94 466.50 1456.14 466.50 H1457.74 Q1459.94 466.50 1459.94 468.70 V656.50 Z" fill="#2455D9"/>
<path d="M1463.58 656.50 V477.40 Q1463.58 475.20 1465.78 475.20 H1467.38 Q1469.58 475.20 1469.58 477.40 V656.50 Z" fill="#2455D9"/>
<path d="M1473.23 656.50 V497.20 Q1473.23 495.00 1475.43 495.00 H1477.03 Q1479.23 495.00 1479.23 497.20 V656.50 Z" fill="#2455D9"/>
<path d="M1482.88 656.50 V485.70 Q1482.88 483.50 1485.08 483.50 H1486.68 Q1488.88 483.50 1488.88 485.70 V656.50 Z" fill="#2455D9"/>
<path d="M1492.53 656.50 V480.30 Q1492.53 478.10 1494.73 478.10 H1496.33 Q1498.53 478.10 1498.53 480.30 V656.50 Z" fill="#2455D9"/>
<path d="M1502.18 656.50 V484.00 Q1502.18 481.80 1504.38 481.80 H1505.98 Q1508.18 481.80 1508.18 484.00 V656.50 Z" fill="#2455D9"/>
<path d="M1511.82 656.50 V492.60 Q1511.82 490.40 1514.02 490.40 H1515.62 Q1517.82 490.40 1517.82 492.60 V656.50 Z" fill="#2455D9"/>
<path d="M1521.47 656.50 V497.20 Q1521.47 495.00 1523.67 495.00 H1525.27 Q1527.47 495.00 1527.47 497.20 V656.50 Z" fill="#2455D9"/>
<path d="M1531.12 656.50 V497.20 Q1531.12 495.00 1533.32 495.00 H1534.92 Q1537.12 495.00 1537.12 497.20 V656.50 Z" fill="#2455D9"/>
<path d="M1540.77 656.50 V500.60 Q1540.77 498.40 1542.97 498.40 H1544.57 Q1546.77 498.40 1546.77 500.60 V656.50 Z" fill="#2455D9"/>
<path d="M1550.42 656.50 V502.70 Q1550.42 500.50 1552.62 500.50 H1554.22 Q1556.42 500.50 1556.42 502.70 V656.50 Z" fill="#2455D9"/>
<path d="M1560.06 656.50 V500.30 Q1560.06 498.10 1562.26 498.10 H1563.86 Q1566.06 498.10 1566.06 500.30 V656.50 Z" fill="#2455D9"/>
<path d="M1569.71 656.50 V497.20 Q1569.71 495.00 1571.91 495.00 H1573.51 Q1575.71 495.00 1575.71 497.20 V656.50 Z" fill="#2455D9"/>
<path d="M1579.36 656.50 V496.50 Q1579.36 494.30 1581.56 494.30 H1583.16 Q1585.36 494.30 1585.36 496.50 V656.50 Z" fill="#2455D9"/>
<path d="M1589.01 656.50 V507.90 Q1589.01 505.70 1591.21 505.70 H1592.81 Q1595.01 505.70 1595.01 507.90 V656.50 Z" fill="#2455D9"/>
<path d="M1598.66 656.50 V498.50 Q1598.66 496.30 1600.86 496.30 H1602.46 Q1604.66 496.30 1604.66 498.50 V656.50 Z" fill="#2455D9"/>
<path d="M1608.30 656.50 V493.60 Q1608.30 491.40 1610.50 491.40 H1612.10 Q1614.30 491.40 1614.30 493.60 V656.50 Z" fill="#2455D9"/>
<path d="M1617.95 656.50 V488.80 Q1617.95 486.60 1620.15 486.60 H1621.75 Q1623.95 486.60 1623.95 488.80 V656.50 Z" fill="#2455D9"/>
<path d="M1627.60 656.50 V491.90 Q1627.60 489.70 1629.80 489.70 H1631.40 Q1633.60 489.70 1633.60 491.90 V656.50 Z" fill="#2455D9"/>
<path d="M1637.25 656.50 V478.30 Q1637.25 476.10 1639.45 476.10 H1641.05 Q1643.25 476.10 1643.25 478.30 V656.50 Z" fill="#2455D9"/>
<path d="M1646.90 656.50 V488.80 Q1646.90 486.60 1649.10 486.60 H1650.70 Q1652.90 486.60 1652.90 488.80 V656.50 Z" fill="#2455D9"/>
<path d="M1656.54 656.50 V494.50 Q1656.54 492.30 1658.74 492.30 H1660.34 Q1662.54 492.30 1662.54 494.50 V656.50 Z" fill="#2455D9"/>
<path d="M1666.19 656.50 V492.60 Q1666.19 490.40 1668.39 490.40 H1669.99 Q1672.19 490.40 1672.19 492.60 V656.50 Z" fill="#2455D9"/>
<path d="M1675.84 656.50 V493.45 Q1675.84 491.25 1678.04 491.25 H1679.64 Q1681.84 491.25 1681.84 493.45 V656.50 Z" fill="#2455D9"/>
<path d="M1685.49 656.50 V505.70 Q1685.49 503.50 1687.69 503.50 H1689.29 Q1691.49 503.50 1691.49 505.70 V656.50 Z" fill="#2455D9"/>
<path d="M1695.14 656.50 V512.70 Q1695.14 510.50 1697.34 510.50 H1698.94 Q1701.14 510.50 1701.14 512.70 V656.50 Z" fill="#2455D9"/>
<path d="M1704.78 656.50 V528.00 Q1704.78 525.80 1706.98 525.80 H1708.58 Q1710.78 525.80 1710.78 528.00 V656.50 Z" fill="#2455D9"/>
<path d="M1714.43 656.50 V512.70 Q1714.43 510.50 1716.63 510.50 H1718.23 Q1720.43 510.50 1720.43 512.70 V656.50 Z" fill="#2455D9"/>
<path d="M1724.08 656.50 V506.50 Q1724.08 504.30 1726.28 504.30 H1727.88 Q1730.08 504.30 1730.08 506.50 V656.50 Z" fill="#2455D9"/>
<path d="M1733.73 656.50 V504.90 Q1733.73 502.70 1735.93 502.70 H1737.53 Q1739.73 502.70 1739.73 504.90 V656.50 Z" fill="#2455D9"/>
<path d="M1743.38 656.50 V490.10 Q1743.38 487.90 1745.58 487.90 H1747.18 Q1749.38 487.90 1749.38 490.10 V656.50 Z" fill="#2455D9"/>
<path d="M1753.02 656.50 V476.30 Q1753.02 474.10 1755.22 474.10 H1756.82 Q1759.02 474.10 1759.02 476.30 V656.50 Z" fill="#2455D9"/>
<path d="M1762.67 656.50 V485.30 Q1762.67 483.10 1764.87 483.10 H1766.47 Q1768.67 483.10 1768.67 485.30 V656.50 Z" fill="#2455D9"/>
<path d="M1772.32 656.50 V508.00 Q1772.32 505.80 1774.52 505.80 H1776.12 Q1778.32 505.80 1778.32 508.00 V656.50 Z" fill="#2455D9"/>
<path d="M1781.97 656.50 V517.20 Q1781.97 515.00 1784.17 515.00 H1785.77 Q1787.97 515.00 1787.97 517.20 V656.50 Z" fill="#2455D9"/>
<path d="M1010.13 958.50 V958.00 Q1010.13 957.50 1010.63 957.50 H1015.63 Q1016.13 957.50 1016.13 958.00 V958.50 Z" fill="#6923EC"/>
<path d="M1019.78 958.50 V958.00 Q1019.78 957.50 1020.28 957.50 H1025.28 Q1025.78 957.50 1025.78 958.00 V958.50 Z" fill="#6923EC"/>
<path d="M1029.42 958.50 V958.00 Q1029.42 957.50 1029.92 957.50 H1034.92 Q1035.42 957.50 1035.42 958.00 V958.50 Z" fill="#6923EC"/>
<path d="M1039.07 958.50 V958.00 Q1039.07 957.50 1039.57 957.50 H1044.57 Q1045.07 957.50 1045.07 958.00 V958.50 Z" fill="#6923EC"/>
<path d="M1048.72 958.50 V958.00 Q1048.72 957.50 1049.22 957.50 H1054.22 Q1054.72 957.50 1054.72 958.00 V958.50 Z" fill="#6923EC"/>
<path d="M1058.37 958.50 V958.00 Q1058.37 957.50 1058.87 957.50 H1063.87 Q1064.37 957.50 1064.37 958.00 V958.50 Z" fill="#6923EC"/>
<path d="M1068.02 958.50 V958.00 Q1068.02 957.50 1068.52 957.50 H1073.52 Q1074.02 957.50 1074.02 958.00 V958.50 Z" fill="#6923EC"/>
<path d="M1077.66 958.50 V957.60 Q1077.66 956.70 1078.56 956.70 H1082.76 Q1083.66 956.70 1083.66 957.60 V958.50 Z" fill="#6923EC"/>
<path d="M1087.31 958.50 V957.60 Q1087.31 956.70 1088.21 956.70 H1092.41 Q1093.31 956.70 1093.31 957.60 V958.50 Z" fill="#6923EC"/>
<path d="M1096.96 958.50 V957.60 Q1096.96 956.70 1097.86 956.70 H1102.06 Q1102.96 956.70 1102.96 957.60 V958.50 Z" fill="#6923EC"/>
<path d="M1106.61 958.50 V957.60 Q1106.61 956.70 1107.51 956.70 H1111.71 Q1112.61 956.70 1112.61 957.60 V958.50 Z" fill="#6923EC"/>
<path d="M1116.26 958.50 V957.60 Q1116.26 956.70 1117.16 956.70 H1121.36 Q1122.26 956.70 1122.26 957.60 V958.50 Z" fill="#6923EC"/>
<path d="M1125.90 958.50 V957.60 Q1125.90 956.70 1126.80 956.70 H1131.00 Q1131.90 956.70 1131.90 957.60 V958.50 Z" fill="#6923EC"/>
<path d="M1135.55 958.50 V957.25 Q1135.55 956.00 1136.80 956.00 H1140.30 Q1141.55 956.00 1141.55 957.25 V958.50 Z" fill="#6923EC"/>
<path d="M1145.20 958.50 V956.85 Q1145.20 955.20 1146.85 955.20 H1149.55 Q1151.20 955.20 1151.20 956.85 V958.50 Z" fill="#6923EC"/>
<path d="M1154.85 958.50 V956.50 Q1154.85 954.50 1156.85 954.50 H1158.85 Q1160.85 954.50 1160.85 956.50 V958.50 Z" fill="#6923EC"/>
<path d="M1164.50 958.50 V955.80 Q1164.50 953.60 1166.70 953.60 H1168.30 Q1170.50 953.60 1170.50 955.80 V958.50 Z" fill="#6923EC"/>
<path d="M1174.14 958.50 V954.45 Q1174.14 952.25 1176.34 952.25 H1177.94 Q1180.14 952.25 1180.14 954.45 V958.50 Z" fill="#6923EC"/>
<path d="M1183.79 958.50 V952.20 Q1183.79 950.00 1185.99 950.00 H1187.59 Q1189.79 950.00 1189.79 952.20 V958.50 Z" fill="#6923EC"/>
<path d="M1193.44 958.50 V951.70 Q1193.44 949.50 1195.64 949.50 H1197.24 Q1199.44 949.50 1199.44 951.70 V958.50 Z" fill="#6923EC"/>
<path d="M1203.09 958.50 V952.10 Q1203.09 949.90 1205.29 949.90 H1206.89 Q1209.09 949.90 1209.09 952.10 V958.50 Z" fill="#6923EC"/>
<path d="M1212.74 958.50 V951.40 Q1212.74 949.20 1214.94 949.20 H1216.54 Q1218.74 949.20 1218.74 951.40 V958.50 Z" fill="#6923EC"/>
<path d="M1222.38 958.50 V950.60 Q1222.38 948.40 1224.58 948.40 H1226.18 Q1228.38 948.40 1228.38 950.60 V958.50 Z" fill="#6923EC"/>
<path d="M1232.03 958.50 V948.80 Q1232.03 946.60 1234.23 946.60 H1235.83 Q1238.03 946.60 1238.03 948.80 V958.50 Z" fill="#6923EC"/>
<path d="M1241.68 958.50 V946.70 Q1241.68 944.50 1243.88 944.50 H1245.48 Q1247.68 944.50 1247.68 946.70 V958.50 Z" fill="#6923EC"/>
<path d="M1251.33 958.50 V943.00 Q1251.33 940.80 1253.53 940.80 H1255.13 Q1257.33 940.80 1257.33 943.00 V958.50 Z" fill="#6923EC"/>
<path d="M1260.98 958.50 V938.50 Q1260.98 936.30 1263.18 936.30 H1264.78 Q1266.98 936.30 1266.98 938.50 V958.50 Z" fill="#6923EC"/>
<path d="M1270.62 958.50 V927.40 Q1270.62 925.20 1272.82 925.20 H1274.42 Q1276.62 925.20 1276.62 927.40 V958.50 Z" fill="#6923EC"/>
<path d="M1280.27 958.50 V914.90 Q1280.27 912.70 1282.47 912.70 H1284.07 Q1286.27 912.70 1286.27 914.90 V958.50 Z" fill="#6923EC"/>
<path d="M1289.92 958.50 V920.10 Q1289.92 917.90 1292.12 917.90 H1293.72 Q1295.92 917.90 1295.92 920.10 V958.50 Z" fill="#6923EC"/>
<path d="M1299.57 958.50 V920.60 Q1299.57 918.40 1301.77 918.40 H1303.37 Q1305.57 918.40 1305.57 920.60 V958.50 Z" fill="#6923EC"/>
<path d="M1309.22 958.50 V915.60 Q1309.22 913.40 1311.42 913.40 H1313.02 Q1315.22 913.40 1315.22 915.60 V958.50 Z" fill="#6923EC"/>
<path d="M1318.86 958.50 V911.70 Q1318.86 909.50 1321.06 909.50 H1322.66 Q1324.86 909.50 1324.86 911.70 V958.50 Z" fill="#6923EC"/>
<path d="M1328.51 958.50 V898.70 Q1328.51 896.50 1330.71 896.50 H1332.31 Q1334.51 896.50 1334.51 898.70 V958.50 Z" fill="#6923EC"/>
<path d="M1338.16 958.50 V884.70 Q1338.16 882.50 1340.36 882.50 H1341.96 Q1344.16 882.50 1344.16 884.70 V958.50 Z" fill="#6923EC"/>
<path d="M1347.81 958.50 V882.30 Q1347.81 880.10 1350.01 880.10 H1351.61 Q1353.81 880.10 1353.81 882.30 V958.50 Z" fill="#6923EC"/>
<path d="M1357.46 958.50 V879.50 Q1357.46 877.30 1359.66 877.30 H1361.26 Q1363.46 877.30 1363.46 879.50 V958.50 Z" fill="#6923EC"/>
<path d="M1367.10 958.50 V883.10 Q1367.10 880.90 1369.30 880.90 H1370.90 Q1373.10 880.90 1373.10 883.10 V958.50 Z" fill="#6923EC"/>
<path d="M1376.75 958.50 V883.90 Q1376.75 881.70 1378.95 881.70 H1380.55 Q1382.75 881.70 1382.75 883.90 V958.50 Z" fill="#6923EC"/>
<path d="M1386.40 958.50 V884.20 Q1386.40 882.00 1388.60 882.00 H1390.20 Q1392.40 882.00 1392.40 884.20 V958.50 Z" fill="#6923EC"/>
<path d="M1396.05 958.50 V885.70 Q1396.05 883.50 1398.25 883.50 H1399.85 Q1402.05 883.50 1402.05 885.70 V958.50 Z" fill="#6923EC"/>
<path d="M1405.70 958.50 V892.50 Q1405.70 890.30 1407.90 890.30 H1409.50 Q1411.70 890.30 1411.70 892.50 V958.50 Z" fill="#6923EC"/>
<path d="M1415.34 958.50 V893.50 Q1415.34 891.30 1417.54 891.30 H1419.14 Q1421.34 891.30 1421.34 893.50 V958.50 Z" fill="#6923EC"/>
<path d="M1424.99 958.50 V893.50 Q1424.99 891.30 1427.19 891.30 H1428.79 Q1430.99 891.30 1430.99 893.50 V958.50 Z" fill="#6923EC"/>
<path d="M1434.64 958.50 V894.10 Q1434.64 891.90 1436.84 891.90 H1438.44 Q1440.64 891.90 1440.64 894.10 V958.50 Z" fill="#6923EC"/>
<path d="M1444.29 958.50 V894.10 Q1444.29 891.90 1446.49 891.90 H1448.09 Q1450.29 891.90 1450.29 894.10 V958.50 Z" fill="#6923EC"/>
<path d="M1453.94 958.50 V890.40 Q1453.94 888.20 1456.14 888.20 H1457.74 Q1459.94 888.20 1459.94 890.40 V958.50 Z" fill="#6923EC"/>
<path d="M1463.58 958.50 V893.50 Q1463.58 891.30 1465.78 891.30 H1467.38 Q1469.58 891.30 1469.58 893.50 V958.50 Z" fill="#6923EC"/>
<path d="M1473.23 958.50 V890.40 Q1473.23 888.20 1475.43 888.20 H1477.03 Q1479.23 888.20 1479.23 890.40 V958.50 Z" fill="#6923EC"/>
<path d="M1482.88 958.50 V890.40 Q1482.88 888.20 1485.08 888.20 H1486.68 Q1488.88 888.20 1488.88 890.40 V958.50 Z" fill="#6923EC"/>
<path d="M1492.53 958.50 V887.10 Q1492.53 884.90 1494.73 884.90 H1496.33 Q1498.53 884.90 1498.53 887.10 V958.50 Z" fill="#6923EC"/>
<path d="M1502.18 958.50 V885.70 Q1502.18 883.50 1504.38 883.50 H1505.98 Q1508.18 883.50 1508.18 885.70 V958.50 Z" fill="#6923EC"/>
<path d="M1511.82 958.50 V886.50 Q1511.82 884.30 1514.02 884.30 H1515.62 Q1517.82 884.30 1517.82 886.50 V958.50 Z" fill="#6923EC"/>
<path d="M1521.47 958.50 V890.20 Q1521.47 888.00 1523.67 888.00 H1525.27 Q1527.47 888.00 1527.47 890.20 V958.50 Z" fill="#6923EC"/>
<path d="M1531.12 958.50 V881.90 Q1531.12 879.70 1533.32 879.70 H1534.92 Q1537.12 879.70 1537.12 881.90 V958.50 Z" fill="#6923EC"/>
<path d="M1540.77 958.50 V881.90 Q1540.77 879.70 1542.97 879.70 H1544.57 Q1546.77 879.70 1546.77 881.90 V958.50 Z" fill="#6923EC"/>
<path d="M1550.42 958.50 V887.30 Q1550.42 885.10 1552.62 885.10 H1554.22 Q1556.42 885.10 1556.42 887.30 V958.50 Z" fill="#6923EC"/>
<path d="M1560.06 958.50 V885.90 Q1560.06 883.70 1562.26 883.70 H1563.86 Q1566.06 883.70 1566.06 885.90 V958.50 Z" fill="#6923EC"/>
<path d="M1569.71 958.50 V881.90 Q1569.71 879.70 1571.91 879.70 H1573.51 Q1575.71 879.70 1575.71 881.90 V958.50 Z" fill="#6923EC"/>
<path d="M1579.36 958.50 V874.50 Q1579.36 872.30 1581.56 872.30 H1583.16 Q1585.36 872.30 1585.36 874.50 V958.50 Z" fill="#6923EC"/>
<path d="M1589.01 958.50 V869.10 Q1589.01 866.90 1591.21 866.90 H1592.81 Q1595.01 866.90 1595.01 869.10 V958.50 Z" fill="#6923EC"/>
<path d="M1598.66 958.50 V857.10 Q1598.66 854.90 1600.86 854.90 H1602.46 Q1604.66 854.90 1604.66 857.10 V958.50 Z" fill="#6923EC"/>
<path d="M1608.30 958.50 V835.10 Q1608.30 832.90 1610.50 832.90 H1612.10 Q1614.30 832.90 1614.30 835.10 V958.50 Z" fill="#6923EC"/>
<path d="M1617.95 958.50 V845.10 Q1617.95 842.90 1620.15 842.90 H1621.75 Q1623.95 842.90 1623.95 845.10 V958.50 Z" fill="#6923EC"/>
<path d="M1627.60 958.50 V839.90 Q1627.60 837.70 1629.80 837.70 H1631.40 Q1633.60 837.70 1633.60 839.90 V958.50 Z" fill="#6923EC"/>
<path d="M1637.25 958.50 V837.40 Q1637.25 835.20 1639.45 835.20 H1641.05 Q1643.25 835.20 1643.25 837.40 V958.50 Z" fill="#6923EC"/>
<path d="M1646.90 958.50 V843.00 Q1646.90 840.80 1649.10 840.80 H1650.70 Q1652.90 840.80 1652.90 843.00 V958.50 Z" fill="#6923EC"/>
<path d="M1656.54 958.50 V852.30 Q1656.54 850.10 1658.74 850.10 H1660.34 Q1662.54 850.10 1662.54 852.30 V958.50 Z" fill="#6923EC"/>
<path d="M1666.19 958.50 V848.50 Q1666.19 846.30 1668.39 846.30 H1669.99 Q1672.19 846.30 1672.19 848.50 V958.50 Z" fill="#6923EC"/>
<path d="M1675.84 958.50 V851.10 Q1675.84 848.90 1678.04 848.90 H1679.64 Q1681.84 848.90 1681.84 851.10 V958.50 Z" fill="#6923EC"/>
<path d="M1685.49 958.50 V825.90 Q1685.49 823.70 1687.69 823.70 H1689.29 Q1691.49 823.70 1691.49 825.90 V958.50 Z" fill="#6923EC"/>
<path d="M1695.14 958.50 V805.30 Q1695.14 803.10 1697.34 803.10 H1698.94 Q1701.14 803.10 1701.14 805.30 V958.50 Z" fill="#6923EC"/>
<path d="M1704.78 958.50 V797.50 Q1704.78 795.30 1706.98 795.30 H1708.58 Q1710.78 795.30 1710.78 797.50 V958.50 Z" fill="#6923EC"/>
<path d="M1714.43 958.50 V814.60 Q1714.43 812.40 1716.63 812.40 H1718.23 Q1720.43 812.40 1720.43 814.60 V958.50 Z" fill="#6923EC"/>
<path d="M1724.08 958.50 V819.00 Q1724.08 816.80 1726.28 816.80 H1727.88 Q1730.08 816.80 1730.08 819.00 V958.50 Z" fill="#6923EC"/>
<path d="M1733.73 958.50 V828.80 Q1733.73 826.60 1735.93 826.60 H1737.53 Q1739.73 826.60 1739.73 828.80 V958.50 Z" fill="#6923EC"/>
<path d="M1743.38 958.50 V826.60 Q1743.38 824.40 1745.58 824.40 H1747.18 Q1749.38 824.40 1749.38 826.60 V958.50 Z" fill="#6923EC"/>
<path d="M1753.02 958.50 V834.80 Q1753.02 832.60 1755.22 832.60 H1756.82 Q1759.02 832.60 1759.02 834.80 V958.50 Z" fill="#6923EC"/>
<path d="M1762.67 958.50 V825.90 Q1762.67 823.70 1764.87 823.70 H1766.47 Q1768.67 823.70 1768.67 825.90 V958.50 Z" fill="#6923EC"/>
<path d="M1772.32 958.50 V826.60 Q1772.32 824.40 1774.52 824.40 H1776.12 Q1778.32 824.40 1778.32 826.60 V958.50 Z" fill="#6923EC"/>
<path d="M1781.97 958.50 V826.60 Q1781.97 824.40 1784.17 824.40 H1785.77 Q1787.97 824.40 1787.97 826.60 V958.50 Z" fill="#6923EC"/>
<line x1="657" y1="656.5" x2="1791" y2="656.5" stroke="#2A2A2A" stroke-width="1.6"/>
<path d="M657.0 319.3 L657.5 319.3 L658.0 319.2 L658.5 319.3 L659.0 319.4 L659.5 319.2 L660.0 319.2 L660.5 319.4 L661.0 319.2 L661.5 319.3 L662.0 319.2 L662.5 319.3 L663.0 319.4 L663.5 319.3 L664.0 319.4 L664.5 319.4 L665.0 319.4 L665.5 319.3 L666.0 319.2 L666.5 319.2 L667.0 319.3 L667.5 319.2 L668.0 319.2 L668.5 319.3 L669.0 319.2 L669.5 319.4 L670.0 319.3 L670.5 318.9 L671.0 319.3 L671.5 319.6 L672.0 319.4 L672.5 319.0 L673.0 319.4 L673.5 319.2 L674.0 319.2 L674.5 319.3 L675.0 319.3 L675.5 319.4 L676.0 319.3 L676.5 319.3 L677.0 319.2 L677.5 319.2 L678.0 319.2 L678.5 319.2 L679.0 319.4 L679.5 319.3 L680.0 319.4 L680.5 319.2 L681.0 319.2 L681.5 319.3 L682.0 319.3 L682.5 319.3 L683.0 319.1 L683.5 319.3 L684.0 319.3 L684.5 319.2 L685.0 319.2 L685.5 319.4 L686.0 319.3 L686.5 319.4 L687.0 319.3 L687.5 319.2 L688.0 319.4 L688.5 319.2 L689.0 319.2 L689.5 319.3 L690.0 319.2 L690.5 319.2 L691.0 319.2 L691.5 319.1 L692.0 319.1 L692.5 319.1 L693.0 319.1 L693.5 319.1 L694.0 319.1 L694.5 319.1 L695.0 319.1 L695.5 319.0 L696.0 319.0 L696.5 319.0 L697.0 319.2 L697.5 319.1 L698.0 319.1 L698.5 319.1 L699.0 319.1 L699.5 319.2 L700.0 319.2 L700.5 319.2 L701.0 319.1 L701.5 319.2 L702.0 319.2 L702.5 319.2 L703.0 319.1 L703.5 319.2 L704.0 318.9 L704.5 319.1 L705.0 319.1 L705.5 318.9 L706.0 319.0 L706.5 319.0 L707.0 319.0 L707.5 318.9 L708.0 318.7 L708.5 318.8 L709.0 318.7 L709.5 318.8 L710.0 318.8 L710.5 318.8 L711.0 318.8 L711.5 318.7 L712.0 318.9 L712.5 318.7 L713.0 318.9 L713.5 318.9 L714.0 318.9 L714.5 318.8 L715.0 318.9 L715.5 318.9 L716.0 318.9 L716.5 318.9 L717.0 318.8 L717.5 318.9 L718.0 318.9 L718.5 318.9 L719.0 318.9 L719.5 319.0 L720.0 318.8 L720.5 319.0 L721.0 318.9 L721.5 318.9 L722.0 318.8 L722.5 318.8 L723.0 318.9 L723.5 319.0 L724.0 319.0 L724.5 318.8 L725.0 319.0 L725.5 318.8 L726.0 318.8 L726.5 318.8 L727.0 318.7 L727.5 318.9 L728.0 319.0 L728.5 319.0 L729.0 318.9 L729.5 318.9 L730.0 318.8 L730.5 319.0 L731.0 318.8 L731.5 318.8 L732.0 319.0 L732.5 318.9 L733.0 318.9 L733.5 318.9 L734.0 318.9 L734.5 318.9 L735.0 318.9 L735.5 318.7 L736.0 318.8 L736.5 318.8 L737.0 318.9 L737.5 318.9 L738.0 318.8 L738.5 318.7 L739.0 318.8 L739.5 318.9 L740.0 318.9 L740.5 318.8 L741.0 318.8 L741.5 318.8 L742.0 318.9 L742.5 318.9 L743.0 318.8 L743.5 318.8 L744.0 318.7 L744.5 318.7 L745.0 318.9 L745.5 318.7 L746.0 318.7 L746.5 318.9 L747.0 318.8 L747.5 318.7 L748.0 318.9 L748.5 318.6 L749.0 318.8 L749.5 318.9 L750.0 318.8 L750.5 318.8 L751.0 318.8 L751.5 318.8 L752.0 318.7 L752.5 318.6 L753.0 318.7 L753.5 318.7 L754.0 318.6 L754.5 318.7 L755.0 318.4 L755.5 318.7 L756.0 318.7 L756.5 318.6 L757.0 318.8 L757.5 318.7 L758.0 318.6 L758.5 318.7 L759.0 318.4 L759.5 318.6 L760.0 318.6 L760.5 318.4 L761.0 318.4 L761.5 318.6 L762.0 318.5 L762.5 318.6 L763.0 318.5 L763.5 318.4 L764.0 318.4 L764.5 318.3 L765.0 318.4 L765.5 318.5 L766.0 318.4 L766.5 318.4 L767.0 318.5 L767.5 318.6 L768.0 318.6 L768.5 318.6 L769.0 318.4 L769.5 318.6 L770.0 318.6 L770.5 318.5 L771.0 318.5 L771.5 318.8 L772.0 318.7 L772.5 318.6 L773.0 318.7 L773.5 318.5 L774.0 318.6 L774.5 318.6 L775.0 318.6 L775.5 318.8 L776.0 318.7 L776.5 318.7 L777.0 318.6 L777.5 318.8 L778.0 318.6 L778.5 318.6 L779.0 318.6 L779.5 318.8 L780.0 318.7 L780.5 318.7 L781.0 318.6 L781.5 318.7 L782.0 318.7 L782.5 319.0 L783.0 318.7 L783.5 318.8 L784.0 318.6 L784.5 318.7 L785.0 318.7 L785.5 318.7 L786.0 318.6 L786.5 318.7 L787.0 318.6 L787.5 318.5 L788.0 318.5 L788.5 318.5 L789.0 318.5 L789.5 318.3 L790.0 318.5 L790.5 318.5 L791.0 318.4 L791.5 318.4 L792.0 318.6 L792.5 318.4 L793.0 318.4 L793.5 318.4 L794.0 318.4 L794.6 318.5 L795.1 318.5 L795.6 318.5 L796.1 318.4 L796.6 318.4 L797.1 318.4 L797.6 318.6 L798.1 318.5 L798.6 318.4 L799.1 318.4 L799.6 318.3 L800.1 318.4 L800.6 318.3 L801.1 318.4 L801.6 318.3 L802.1 318.4 L802.6 318.4 L803.1 318.3 L803.6 318.2 L804.1 318.3 L804.6 318.2 L805.1 318.2 L805.6 318.1 L806.1 318.0 L806.6 318.1 L807.1 318.0 L807.6 318.3 L808.1 318.1 L808.6 318.0 L809.1 318.0 L809.6 317.8 L810.0 317.7 L810.5 317.4 L811.0 317.5 L811.5 317.3 L812.0 316.9 L812.5 317.1 L812.9 317.4 L813.4 316.9 L813.9 316.7 L814.4 316.7 L814.9 316.6 L815.4 316.4 L815.9 316.1 L816.4 316.1 L816.9 316.1 L817.4 316.1 L817.9 315.9 L818.4 315.7 L818.9 315.8 L819.4 315.7 L819.8 315.7 L820.3 315.4 L820.8 315.7 L821.3 315.4 L821.8 315.2 L822.3 315.0 L822.8 314.7 L823.3 314.6 L823.8 314.8 L824.3 314.6 L824.8 314.6 L825.3 314.6 L825.8 314.6 L826.4 314.5 L826.9 314.8 L827.4 314.5 L828.0 314.9 L828.5 314.7 L829.0 314.8 L829.5 314.8 L830.0 315.0 L830.6 315.4 L831.1 315.3 L831.6 315.7 L832.1 315.4 L832.6 315.6 L833.1 315.9 L833.7 315.8 L834.2 316.2 L834.7 316.4 L835.2 316.4 L835.7 316.5 L836.2 316.7 L836.8 316.5 L837.3 316.5 L837.8 316.1 L838.3 315.9 L838.8 315.9 L839.4 315.7 L839.9 315.6 L840.4 315.3 L840.9 315.0 L841.4 314.9 L841.9 314.6 L842.3 314.4 L842.8 314.2 L843.3 314.0 L843.8 313.7 L844.3 313.3 L844.8 313.1 L845.2 313.0 L845.7 312.4 L846.2 312.6 L846.7 312.2 L847.2 310.4 L847.7 310.8 L848.2 310.6 L848.7 311.6 L849.3 311.7 L849.8 312.0 L850.3 312.4 L850.8 312.7 L851.3 312.2 L851.8 312.2 L852.4 312.0 L852.9 311.9 L853.4 311.7 L854.0 313.7 L854.5 315.6 L855.0 314.8 L855.5 314.4 L856.0 313.8 L856.5 313.6 L857.0 313.5 L857.5 313.4 L857.9 313.5 L858.4 313.2 L858.9 313.4 L859.4 313.3 L859.9 313.1 L860.4 313.2 L860.9 313.2 L861.4 312.9 L861.8 312.8 L862.3 313.0 L862.8 312.8 L863.3 312.9 L863.8 312.7 L864.3 312.9 L864.8 312.4 L865.2 312.3 L865.7 312.6 L866.2 312.5 L866.7 312.1 L867.2 312.0 L867.7 312.2 L868.2 311.9 L868.7 311.9 L869.1 311.8 L869.6 311.5 L870.1 311.5 L870.6 311.5 L871.1 311.6 L871.6 311.3 L872.2 310.8 L872.7 310.5 L873.2 310.6 L873.7 310.4 L874.2 310.1 L874.8 309.9 L875.3 309.8 L875.8 309.4 L876.3 308.8 L876.8 308.8 L877.4 307.9 L877.9 307.5 L878.4 306.8 L879.0 306.5 L879.5 305.8 L880.0 305.4 L880.5 305.1 L881.0 303.2 L881.6 301.7 L882.1 301.0 L882.6 300.2 L883.1 299.0 L883.7 297.0 L884.2 295.7 L884.7 294.5 L885.2 295.5 L885.8 296.3 L886.3 297.3 L886.8 298.1 L887.3 296.9 L887.8 295.1 L888.3 292.8 L888.8 291.4 L889.3 289.5 L889.8 287.9 L890.4 286.6 L890.9 285.6 L891.4 286.3 L892.0 285.1 L892.5 285.6 L893.0 289.8 L893.5 290.0 L894.1 291.8 L894.6 294.5 L895.1 297.9 L895.6 300.2 L896.2 297.3 L896.7 294.5 L897.2 295.2 L897.7 296.0 L898.2 296.3 L898.8 297.1 L899.3 300.8 L899.8 303.8 L900.3 308.0 L900.8 311.7 L901.3 308.8 L901.9 306.3 L902.4 303.3 L902.9 301.9 L903.5 300.0 L904.0 299.2 L904.5 297.6 L905.0 298.9 L905.5 300.4 L906.0 301.2 L906.5 300.8 L907.1 301.1 L907.6 301.3 L908.1 301.3 L908.7 300.8 L909.2 300.7 L909.7 300.6 L910.2 301.8 L910.8 301.7 L911.3 302.6 L911.8 303.1 L912.3 304.0 L912.8 304.3 L913.4 305.1 L913.9 305.6 L914.4 305.9 L914.9 306.4 L915.4 306.7 L916.0 306.8 L916.5 307.2 L917.0 307.8 L917.5 307.9 L918.0 308.0 L918.6 309.2 L919.1 309.5 L919.6 309.6 L920.1 309.3 L920.6 308.8 L921.2 308.5 L921.7 308.2 L922.2 308.0 L922.7 308.0 L923.2 307.0 L923.8 306.0 L924.3 304.5 L924.8 303.1 L925.3 301.8 L925.9 301.5 L926.4 299.7 L926.9 299.9 L927.4 301.3 L927.9 300.8 L928.4 301.2 L928.9 301.4 L929.4 301.4 L930.0 302.2 L930.5 302.3 L931.0 302.3 L931.5 302.7 L932.0 303.3 L932.6 303.8 L933.1 304.2 L933.6 303.8 L934.1 304.3 L934.7 305.1 L935.2 305.1 L935.7 305.9 L936.2 305.9 L936.8 305.9 L937.3 304.9 L937.8 305.4 L938.3 305.4 L938.8 305.9 L939.3 305.9 L939.9 306.7 L940.4 306.9 L940.9 307.2 L941.4 307.2 L941.9 307.5 L942.5 307.7 L943.0 308.0 L943.5 308.5 L944.0 308.5 L944.5 308.4 L945.1 308.9 L945.6 308.9 L946.1 309.0 L946.6 309.2 L947.2 309.2 L947.7 309.0 L948.2 309.0 L948.8 309.0 L949.3 308.8 L949.8 308.5 L950.3 309.0 L950.8 307.6 L951.4 307.7 L951.9 307.9 L952.4 307.7 L952.9 307.3 L953.4 306.5 L954.0 307.4 L954.5 307.1 L955.0 307.0 L955.5 307.0 L956.0 307.5 L956.5 307.4 L956.9 307.6 L957.4 308.3 L957.9 308.3 L958.4 308.7 L958.9 309.0 L959.4 308.8 L959.9 309.1 L960.4 309.4 L960.8 309.6 L961.3 310.2 L961.8 310.0 L962.3 310.6 L962.8 310.2 L963.3 310.1 L963.9 310.4 L964.4 310.0 L964.9 310.4 L965.4 310.3 L965.9 310.5 L966.5 309.6 L967.0 310.0 L967.5 309.6 L968.0 309.3 L968.5 309.9 L969.1 310.2 L969.6 310.4 L970.1 310.0 L970.6 310.6 L971.1 310.9 L971.7 311.1 L972.2 310.8 L972.7 311.1 L973.2 310.6 L973.7 310.5 L974.2 310.5 L974.8 310.1 L975.3 310.3 L975.8 310.1 L976.3 310.5 L976.8 310.3 L977.3 310.7 L977.7 310.3 L978.2 310.5 L978.7 310.6 L979.2 311.0 L979.7 310.8 L980.2 311.4 L980.7 311.0 L981.2 311.1 L981.6 310.8 L982.1 311.0 L982.6 310.7 L983.1 310.8 L983.6 310.9 L984.1 310.9 L984.6 310.6 L985.1 310.9 L985.6 310.5 L986.1 310.7 L986.5 310.1 L987.0 310.6 L987.5 310.9 L988.0 310.7 L988.5 310.4 L989.0 310.8 L989.5 311.2 L990.1 311.7 L990.6 311.8 L991.1 312.1 L991.6 312.8 L992.2 312.8 L992.7 313.2 L993.2 313.4 L993.8 313.9 L994.2 314.0 L994.7 314.0 L995.2 314.2 L995.7 314.2 L996.2 314.6 L996.6 314.7 L997.1 314.6 L997.6 314.6 L998.1 314.5 L998.6 315.0 L999.1 314.9 L999.5 315.0 L1000.0 315.0 L1000.5 315.2 L1001.0 315.0 L1001.5 314.7 L1002.1 314.3 L1002.6 314.0 L1003.1 313.5 L1003.6 313.6 L1004.1 313.6 L1004.6 313.5 L1005.1 313.9 L1005.6 313.9 L1006.1 314.0 L1006.6 313.9 L1007.1 313.7 L1007.6 314.0 L1008.1 314.0 L1008.6 313.9 L1009.1 313.9 L1009.6 314.0 L1010.2 314.0 L1010.7 313.9 L1011.2 314.1 L1011.7 313.9 L1012.2 314.0 L1012.7 314.1 L1013.2 314.3 L1013.7 314.1 L1014.2 314.3 L1014.7 314.3 L1015.2 314.2 L1015.7 314.5 L1016.2 314.7 L1016.7 314.4 L1017.2 314.4 L1017.7 314.2 L1018.2 313.9 L1018.7 314.2 L1019.2 314.2 L1019.7 314.0 L1020.2 314.2 L1020.7 313.9 L1021.2 313.9 L1021.7 314.0 L1022.2 314.0 L1022.7 313.8 L1023.2 313.9 L1023.7 313.7 L1024.2 313.6 L1024.7 314.0 L1025.3 313.7 L1025.8 313.8 L1026.3 313.7 L1026.8 313.6 L1027.3 313.6 L1027.8 313.8 L1028.3 313.6 L1028.8 313.7 L1029.3 313.4 L1029.8 313.7 L1030.3 313.6 L1030.8 313.4 L1031.3 313.6 L1031.8 313.3 L1032.3 313.3 L1032.8 313.3 L1033.3 313.1 L1033.8 312.4 L1034.4 312.7 L1034.9 312.0 L1035.4 311.8 L1036.0 311.4 L1036.5 311.2 L1037.0 311.0 L1037.5 311.0 L1038.0 311.0 L1038.5 310.9 L1039.0 311.0 L1039.5 310.8 L1040.0 310.9 L1040.5 310.9 L1041.0 311.2 L1041.5 311.2 L1041.9 310.8 L1042.4 310.7 L1042.9 311.0 L1043.4 310.8 L1043.9 310.8 L1044.4 310.9 L1044.9 310.9 L1045.4 310.6 L1045.9 310.8 L1046.4 310.6 L1046.9 310.7 L1047.4 310.3 L1048.0 309.8 L1048.5 309.2 L1049.0 308.6 L1049.5 308.5 L1050.0 308.5 L1050.5 308.0 L1051.0 308.5 L1051.4 308.4 L1051.9 308.1 L1052.4 308.0 L1052.9 307.6 L1053.4 307.8 L1053.9 307.9 L1054.4 307.7 L1054.9 307.4 L1055.3 307.9 L1055.8 307.6 L1056.3 307.3 L1056.8 307.6 L1057.3 307.6 L1057.8 306.9 L1058.3 306.3 L1058.9 306.0 L1059.4 305.6 L1059.9 304.7 L1060.4 304.4 L1060.9 304.1 L1061.5 303.1 L1062.0 302.7 L1062.5 302.4 L1063.0 303.9 L1063.5 306.0 L1064.0 306.0 L1064.5 306.7 L1065.1 306.5 L1065.6 306.8 L1066.1 307.7 L1066.7 307.5 L1067.2 307.8 L1067.7 307.6 L1068.2 307.9 L1068.8 308.6 L1069.3 308.7 L1069.8 308.2 L1070.3 308.2 L1070.8 307.6 L1071.4 308.4 L1071.9 308.1 L1072.4 307.8 L1072.9 307.7 L1073.4 307.7 L1074.0 306.8 L1074.5 307.5 L1075.0 307.3 L1075.5 307.6 L1076.0 306.9 L1076.5 307.5 L1077.0 307.3 L1077.5 307.8 L1078.0 307.6 L1078.5 307.4 L1079.0 307.1 L1079.5 307.3 L1080.0 307.6 L1080.5 307.6 L1081.0 307.7 L1081.5 307.1 L1082.0 308.0 L1082.6 307.5 L1083.1 307.3 L1083.6 307.7 L1084.1 307.6 L1084.6 307.5 L1085.1 307.9 L1085.6 307.2 L1086.1 307.9 L1086.6 308.3 L1087.1 308.3 L1087.6 307.8 L1088.1 308.5 L1088.6 308.4 L1089.1 308.6 L1089.6 308.6 L1090.1 309.2 L1090.6 309.6 L1091.2 309.9 L1091.7 309.9 L1092.2 310.3 L1092.7 310.7 L1093.2 310.4 L1093.7 310.6 L1094.2 310.5 L1094.7 310.1 L1095.1 310.1 L1095.6 310.4 L1096.1 310.1 L1096.6 309.9 L1097.1 309.9 L1097.6 309.7 L1098.1 309.9 L1098.6 309.2 L1099.0 309.4 L1099.5 309.5 L1100.0 309.6 L1100.5 309.1 L1101.0 309.2 L1101.5 308.9 L1102.0 309.2 L1102.5 309.5 L1103.0 309.7 L1103.5 309.8 L1104.0 309.9 L1104.5 310.2 L1105.0 310.0 L1105.4 310.0 L1105.9 310.3 L1106.4 310.5 L1106.9 310.3 L1107.4 310.6 L1107.9 310.7 L1108.4 310.7 L1108.9 310.3 L1109.4 310.7 L1109.9 310.9 L1110.4 311.1 L1110.9 310.3 L1111.4 311.0 L1111.9 310.9 L1112.4 311.0 L1112.8 310.9 L1113.3 311.4 L1113.8 311.4 L1114.3 311.5 L1114.8 311.4 L1115.3 311.5 L1115.8 311.7 L1116.3 311.6 L1116.8 311.8 L1117.3 311.1 L1117.8 311.5 L1118.3 311.9 L1118.8 311.8 L1119.3 311.6 L1119.8 311.6 L1120.3 311.6 L1120.8 311.4 L1121.4 311.2 L1121.9 310.9 L1122.4 311.0 L1122.9 310.7 L1123.4 310.5 L1124.0 310.4 L1124.5 310.4 L1125.0 310.2 L1125.5 309.8 L1126.0 310.0 L1126.5 310.0 L1127.0 309.3 L1127.5 308.5 L1128.0 309.4 L1128.5 309.5 L1129.0 308.9 L1129.5 308.8 L1130.0 308.5 L1130.5 308.1 L1131.0 307.9 L1131.5 308.0 L1132.0 307.7 L1132.5 307.7 L1133.0 307.9 L1133.5 307.4 L1134.0 307.2 L1134.5 307.2 L1135.0 307.3 L1135.5 307.0 L1136.0 306.8 L1136.5 306.9 L1137.0 307.2 L1137.5 307.5 L1138.0 307.4 L1138.6 307.6 L1139.1 308.7 L1139.6 306.8 L1140.1 307.6 L1140.6 307.8 L1141.2 307.8 L1141.7 307.9 L1142.2 308.3 L1142.7 308.6 L1143.2 310.6 L1143.8 312.9 L1144.3 314.8 L1144.8 317.0 L1145.3 315.8 L1145.8 314.7 L1146.4 313.7 L1146.9 312.8 L1147.4 312.8 L1147.9 312.7 L1148.4 312.7 L1148.9 312.7 L1149.4 312.4 L1149.9 312.2 L1150.4 312.0 L1150.9 312.0 L1151.4 311.7 L1151.9 311.7 L1152.4 311.6 L1152.8 311.2 L1153.3 311.8 L1153.8 311.6 L1154.3 311.4 L1154.8 311.2 L1155.3 310.9 L1155.8 311.2 L1156.3 311.0 L1156.8 310.7 L1157.3 310.7 L1157.8 310.6 L1158.3 310.4 L1158.8 309.8 L1159.3 308.9 L1159.9 308.4 L1160.4 307.9 L1160.9 307.6 L1161.4 308.3 L1161.9 307.4 L1162.4 307.3 L1162.9 307.7 L1163.4 306.5 L1163.9 307.6 L1164.4 307.6 L1164.9 308.4 L1165.5 307.5 L1166.0 307.4 L1166.5 307.3 L1167.0 307.3 L1167.5 307.5 L1168.0 307.6 L1168.5 307.2 L1169.0 307.1 L1169.5 307.2 L1170.0 307.2 L1170.5 307.1 L1171.0 307.1 L1171.5 307.5 L1172.0 307.4 L1172.5 307.8 L1173.0 307.3 L1173.5 307.7 L1174.0 308.0 L1174.5 307.8 L1174.9 307.8 L1175.4 308.0 L1175.9 308.3 L1176.4 308.0 L1176.9 308.4 L1177.4 308.2 L1177.9 308.3 L1178.4 308.0 L1178.9 308.9 L1179.4 308.5 L1179.9 308.5 L1180.4 308.6 L1180.9 308.8 L1181.3 308.5 L1181.8 308.1 L1182.3 308.6 L1182.8 308.5 L1183.3 307.7 L1183.8 308.1 L1184.3 308.2 L1184.8 308.3 L1185.2 308.3 L1185.7 307.7 L1186.2 307.8 L1186.7 307.8 L1187.2 307.5 L1187.6 306.7 L1188.1 306.1 L1188.6 305.3 L1189.1 305.5 L1189.5 304.7 L1190.0 304.4 L1190.5 305.2 L1191.0 304.0 L1191.5 304.2 L1192.0 304.2 L1192.5 304.3 L1193.0 304.2 L1193.5 304.4 L1194.0 302.6 L1194.5 303.7 L1195.0 303.5 L1195.5 303.4 L1196.0 303.8 L1196.5 303.9 L1197.0 303.9 L1197.5 303.9 L1198.0 303.2 L1198.5 303.3 L1199.0 303.3 L1199.5 303.1 L1200.0 303.3" fill="none" stroke="#1C2866" stroke-width="2.0" stroke-linejoin="round" stroke-linecap="butt"/>
<path d="M1195.0 303.5 L1195.5 303.4 L1196.0 303.8 L1196.5 303.9 L1197.0 303.9 L1197.5 303.9 L1198.0 303.2 L1198.5 303.3 L1199.0 303.3 L1199.5 303.1 L1200.0 303.3 L1200.5 304.6 L1201.1 306.7 L1201.6 306.8 L1202.1 306.7 L1202.6 306.6 L1203.1 306.5 L1203.6 306.7 L1204.2 306.5 L1204.7 306.0 L1205.2 305.8 L1205.7 306.0 L1206.2 306.1 L1206.7 306.1 L1207.2 305.7 L1207.7 305.6 L1208.2 305.6 L1208.8 305.4 L1209.3 305.5 L1209.8 305.5 L1210.3 305.2 L1210.8 305.5 L1211.3 305.3 L1211.8 305.0 L1212.3 304.8 L1212.9 304.6 L1213.4 304.8 L1213.9 305.6 L1214.4 304.4 L1214.9 304.3 L1215.4 303.8 L1215.9 303.8 L1216.5 303.1 L1217.0 303.7 L1217.5 302.6 L1218.0 302.3 L1218.5 302.7 L1219.0 302.2 L1219.6 302.2 L1220.1 301.8 L1220.6 301.1 L1221.1 301.1 L1221.6 300.9 L1222.1 300.6 L1222.6 299.8 L1223.1 299.2 L1223.6 299.0 L1224.2 298.5 L1224.7 298.1 L1225.2 298.6 L1225.7 296.5 L1226.2 295.8 L1226.7 295.6 L1227.2 295.9 L1227.7 295.8 L1228.2 296.2 L1228.7 295.7 L1229.2 295.9 L1229.7 296.6 L1230.3 296.4 L1230.8 296.5 L1231.3 296.8 L1231.8 297.1 L1232.3 297.1 L1232.8 297.8 L1233.3 297.8 L1233.8 297.1 L1234.3 295.1 L1234.8 294.6 L1235.2 293.6 L1235.7 293.4 L1236.2 293.0 L1236.7 291.1 L1237.2 289.9 L1237.6 288.6 L1238.1 288.5 L1238.6 286.9 L1239.1 286.8 L1239.5 285.2 L1240.0 284.4 L1240.5 282.4 L1241.1 279.2 L1241.7 277.6 L1242.2 274.4 L1242.8 279.7 L1243.3 285.6 L1243.8 286.0 L1244.2 284.8 L1244.7 284.3 L1245.1 282.2 L1245.6 282.2 L1246.1 282.4 L1246.5 281.8 L1247.0 282.1 L1247.5 281.3 L1248.0 280.6 L1248.4 280.7 L1248.9 280.0 L1249.4 276.1 L1249.9 274.3 L1250.4 272.3 L1250.9 267.7 L1251.4 265.9 L1251.9 261.8 L1252.4 259.9 L1252.9 258.6 L1253.4 254.5 L1253.9 252.1 L1254.4 249.4 L1254.9 251.9 L1255.4 253.8 L1255.9 254.4 L1256.3 256.6 L1256.8 259.0 L1257.3 262.1 L1257.8 262.2 L1258.3 259.5 L1258.8 256.2 L1259.3 256.3 L1259.8 254.2 L1260.2 252.9 L1260.7 251.8 L1261.2 248.6 L1261.7 247.7 L1262.2 244.4 L1262.7 245.7 L1263.2 249.5 L1263.7 251.4 L1264.1 252.6 L1264.6 253.8 L1265.1 256.2 L1265.6 257.8 L1266.1 255.4 L1266.7 251.7 L1267.2 248.3 L1267.8 243.3 L1268.3 240.0 L1268.8 238.6 L1269.3 236.4 L1269.8 235.2 L1270.2 234.4 L1270.7 229.1 L1271.2 227.3 L1271.7 226.7 L1272.2 228.0 L1272.6 232.8 L1273.1 235.0 L1273.6 236.6 L1274.1 239.1 L1274.5 244.5 L1275.0 246.7 L1275.5 244.7 L1276.0 241.2 L1276.5 241.2 L1277.0 238.3 L1277.4 234.3 L1277.9 228.3 L1278.4 228.1 L1278.9 224.3 L1279.4 220.6 L1279.9 220.9 L1280.3 222.9 L1280.8 226.0 L1281.3 229.9 L1281.7 230.9 L1282.2 231.1 L1282.8 237.3 L1283.3 246.0 L1283.9 253.3 L1284.5 254.7 L1285.0 258.6 L1285.6 260.0 L1286.1 257.3 L1286.7 254.5 L1287.2 248.9 L1287.7 249.8 L1288.1 248.5 L1288.6 249.5 L1289.1 249.8 L1289.5 252.6 L1290.0 252.2 L1290.5 253.4 L1291.0 256.4 L1291.5 259.1 L1292.0 261.6 L1292.4 261.2 L1292.9 264.6 L1293.4 265.7 L1293.9 267.8 L1294.4 266.4 L1294.8 264.7 L1295.3 264.0 L1295.8 262.4 L1296.2 261.0 L1296.7 260.0 L1297.2 259.9 L1297.6 261.6 L1298.1 260.8 L1298.6 262.7 L1299.1 263.7 L1299.5 266.8 L1300.0 264.4 L1300.5 266.6 L1301.1 268.5 L1301.7 272.0 L1302.2 273.3 L1302.7 270.6 L1303.2 268.0 L1303.7 267.3 L1304.2 263.3 L1304.7 262.1 L1305.2 259.5 L1305.7 257.9 L1306.2 256.6 L1306.7 253.3 L1307.2 251.7 L1307.7 249.7 L1308.2 249.2 L1308.7 245.7 L1309.1 242.7 L1309.6 242.8 L1310.1 239.2 L1310.6 237.6 L1311.1 237.8 L1311.6 236.5 L1312.0 236.0 L1312.5 234.8 L1313.0 233.3 L1313.4 229.4 L1313.9 228.9 L1314.5 230.5 L1315.0 233.7 L1315.6 237.8 L1316.1 232.8 L1316.7 232.2 L1317.2 228.0 L1317.8 223.3 L1318.3 228.1 L1318.9 230.6 L1319.4 236.7 L1320.0 233.3 L1320.5 233.0 L1321.1 228.9 L1321.6 234.5 L1322.0 233.7 L1322.5 237.1 L1323.0 239.9 L1323.5 242.9 L1323.9 244.5 L1324.4 247.8 L1324.9 242.2 L1325.3 240.3 L1325.8 236.5 L1326.2 230.7 L1326.7 226.7 L1327.2 223.8 L1327.7 222.7 L1328.2 221.4 L1328.7 219.1 L1329.1 221.1 L1329.6 218.2 L1330.1 215.6 L1330.6 215.8 L1331.1 213.3 L1331.6 214.9 L1332.2 216.3 L1332.8 216.8 L1333.3 216.7 L1333.8 211.6 L1334.3 213.5 L1334.8 210.5 L1335.3 211.3 L1335.8 204.6 L1336.3 203.1 L1336.8 199.5 L1337.3 197.0 L1337.8 195.6 L1338.3 196.6 L1338.9 199.9 L1339.5 199.2 L1340.0 202.2 L1340.6 208.0 L1341.1 210.2 L1341.7 215.6 L1342.2 213.7 L1342.8 210.4 L1343.3 211.7 L1343.9 210.5 L1344.4 211.1 L1344.9 213.7 L1345.3 217.0 L1345.8 220.6 L1346.2 222.2 L1346.7 223.3 L1347.2 223.4 L1347.7 224.7 L1348.2 226.9 L1348.7 229.0 L1349.1 226.5 L1349.6 228.5 L1350.1 232.3 L1350.6 232.2 L1351.1 227.8 L1351.7 222.3 L1352.2 220.0 L1352.8 225.0 L1353.3 229.3 L1353.9 226.1 L1354.4 230.0 L1354.9 230.2 L1355.4 232.7 L1355.9 235.8 L1356.3 236.2 L1356.8 237.5 L1357.3 239.0 L1357.8 240.0 L1358.3 237.9 L1358.9 235.7 L1359.5 232.8 L1360.0 233.3 L1360.5 237.1 L1361.1 242.7 L1361.7 246.2 L1362.2 251.1 L1362.7 252.4 L1363.1 251.7 L1363.6 250.9 L1364.1 251.1 L1364.5 250.7 L1365.0 248.9 L1365.5 245.9 L1365.9 245.4 L1366.4 241.0 L1366.9 240.4 L1367.3 237.5 L1367.8 234.4 L1368.3 241.7 L1368.7 242.5 L1369.2 244.4 L1369.7 245.9 L1370.2 249.1 L1370.6 251.3 L1371.1 254.4 L1371.6 249.7 L1372.2 247.8 L1372.8 246.9 L1373.3 240.0 L1373.8 242.4 L1374.3 243.6 L1374.8 245.4 L1375.2 245.9 L1375.7 247.6 L1376.2 246.3 L1376.7 251.1 L1377.2 250.6 L1377.7 249.4 L1378.2 248.4 L1378.8 246.1 L1379.3 244.7 L1379.8 244.2 L1380.3 243.4 L1380.8 244.0 L1381.3 238.0 L1381.8 238.4 L1382.4 236.3 L1382.9 233.3 L1383.4 232.3 L1383.9 230.6 L1384.4 232.1 L1384.9 233.9 L1385.4 235.8 L1385.8 234.6 L1386.3 238.9 L1386.8 241.8 L1387.3 240.4 L1387.8 243.3 L1388.3 244.0 L1388.7 241.3 L1389.2 241.2 L1389.7 242.3 L1390.2 238.8 L1390.6 240.0 L1391.1 238.9 L1391.6 240.7 L1392.0 241.1 L1392.5 242.9 L1393.0 245.3 L1393.5 246.5 L1393.9 246.7 L1394.4 248.9 L1394.9 253.2 L1395.3 256.2 L1395.8 259.3 L1396.2 261.7 L1396.7 265.6 L1397.2 265.3 L1397.6 266.1 L1398.1 267.2 L1398.6 268.0 L1399.1 269.2 L1399.5 267.9 L1400.0 268.9 L1400.5 269.7 L1401.0 269.7 L1401.5 268.2 L1402.0 270.0 L1402.4 267.4 L1402.9 268.0 L1403.4 266.3 L1403.9 266.7 L1404.4 267.6 L1404.9 270.3 L1405.4 273.9 L1405.9 274.9 L1406.4 276.6 L1406.9 282.0 L1407.4 282.0 L1407.9 285.2 L1408.4 286.8 L1408.9 288.9 L1409.5 288.2 L1410.0 285.0 L1410.5 283.5 L1411.1 282.2 L1411.6 281.2 L1412.1 283.3 L1412.6 282.4 L1413.1 283.4 L1413.6 283.9 L1414.1 283.9 L1414.6 283.0 L1415.1 283.4 L1415.6 283.9 L1416.1 282.7 L1416.6 282.5 L1417.1 281.4 L1417.6 280.6 L1418.0 279.9 L1418.5 278.1 L1419.0 278.0 L1419.5 277.4 L1420.0 275.6 L1420.5 275.0 L1421.0 275.5 L1421.5 274.1 L1422.0 274.2 L1422.5 274.8 L1423.1 273.3 L1423.6 272.5 L1424.1 273.9 L1424.6 272.9 L1425.1 273.3 L1425.6 272.2 L1426.1 273.0 L1426.6 274.6 L1427.1 274.7 L1427.6 276.3 L1428.1 276.4 L1428.6 276.9 L1429.1 278.4 L1429.6 278.6 L1430.1 279.5 L1430.6 280.0 L1431.1 280.0 L1431.6 278.6 L1432.1 278.4 L1432.6 278.2 L1433.1 278.4 L1433.6 277.2 L1434.1 278.8 L1434.6 278.5 L1435.1 276.8 L1435.6 276.1 L1436.1 277.8 L1436.6 278.1 L1437.2 279.8 L1437.7 281.3 L1438.2 282.3 L1438.8 283.1 L1439.2 282.9 L1439.7 281.9 L1440.2 280.1 L1440.6 280.8 L1441.1 280.9 L1441.6 280.4 L1442.0 279.6 L1442.5 279.4 L1443.0 279.1 L1443.5 279.7 L1444.0 280.0 L1444.5 279.8 L1445.0 280.6 L1445.5 280.4 L1446.1 280.5 L1446.6 281.2 L1447.1 281.2 L1447.6 281.1 L1448.1 281.3 L1448.6 282.0 L1449.1 281.2 L1449.6 281.9 L1450.2 280.3 L1450.7 278.6 L1451.2 278.9 L1451.7 277.4 L1452.3 276.6 L1452.8 276.1 L1453.3 278.6 L1453.8 279.7 L1454.2 281.6 L1454.7 284.1 L1455.2 284.3 L1455.8 284.5 L1456.3 285.0 L1456.8 286.3 L1457.3 286.4 L1457.9 286.5 L1458.4 287.3 L1458.9 286.8 L1459.4 286.1 L1459.8 285.1 L1460.3 285.6 L1460.8 283.9 L1461.2 283.6 L1461.8 284.9 L1462.3 284.8 L1462.8 285.8 L1463.3 285.5 L1463.8 284.2 L1464.3 284.9 L1464.8 284.9 L1465.4 286.1 L1465.9 286.6 L1466.4 286.4 L1466.9 287.3 L1467.4 286.7 L1467.9 286.2 L1468.5 287.2 L1469.0 286.4 L1469.5 287.1 L1470.0 287.1 L1470.6 286.2 L1471.1 286.6 L1471.6 285.9 L1472.1 284.6 L1472.6 284.0 L1473.1 283.4 L1473.7 282.4 L1474.2 282.0 L1474.7 280.8 L1475.2 280.0 L1475.7 279.8 L1476.2 278.4 L1476.8 277.0 L1477.3 277.1 L1477.8 278.2 L1478.3 275.4 L1478.8 275.5 L1479.4 274.7 L1479.9 274.5 L1480.4 274.3 L1480.9 273.8 L1481.4 274.0 L1481.9 273.8 L1482.5 272.8 L1483.0 273.4 L1483.5 272.0 L1484.0 272.3 L1484.6 270.9 L1485.1 270.8 L1485.6 270.9 L1486.1 273.1 L1486.5 272.7 L1487.0 273.4 L1487.5 273.8 L1488.0 274.0 L1488.5 273.2 L1489.0 276.9 L1489.5 277.3 L1490.0 278.1 L1490.6 278.7 L1491.1 279.4 L1491.6 279.8 L1492.1 280.1 L1492.6 280.1 L1493.1 280.3 L1493.6 278.9 L1494.0 276.3 L1494.5 275.6 L1495.0 272.7 L1495.4 271.6 L1495.9 269.1 L1496.4 270.1 L1496.9 270.7 L1497.5 269.1 L1498.0 271.0 L1498.5 270.4 L1499.0 270.1 L1499.6 270.0 L1500.1 271.0 L1500.6 270.9 L1501.1 269.9 L1501.6 269.5 L1502.2 268.6 L1502.7 266.3 L1503.2 267.5 L1503.7 267.4 L1504.3 266.2 L1504.8 266.4 L1505.3 264.4 L1505.8 266.8 L1506.2 265.4 L1506.7 269.4 L1507.2 270.9 L1507.7 270.0 L1508.1 269.9 L1508.6 269.9 L1509.1 270.4 L1509.5 268.9 L1510.0 268.1 L1510.5 269.9 L1510.9 271.0 L1511.4 270.8 L1511.9 271.2 L1512.3 270.0 L1512.8 272.8 L1513.3 272.7 L1513.8 273.4 L1514.3 273.0 L1514.8 271.5 L1515.3 272.1 L1515.9 273.1 L1516.4 272.5 L1516.9 271.9 L1517.4 272.4 L1517.9 271.3 L1518.4 271.9 L1518.9 273.0 L1519.4 273.3 L1519.8 275.9 L1520.3 277.1 L1520.8 277.1 L1521.2 278.0 L1521.8 276.2 L1522.3 275.4 L1522.8 276.3 L1523.3 275.4 L1523.8 274.4 L1524.4 272.8 L1524.9 272.6 L1525.4 271.2 L1525.9 270.0 L1526.4 270.1 L1526.9 267.9 L1527.4 268.0 L1527.9 268.6 L1528.4 267.8 L1528.9 267.0 L1529.5 266.0 L1530.0 267.3 L1530.5 266.6 L1531.0 266.0 L1531.5 264.6 L1532.0 264.0 L1532.5 264.4 L1533.0 265.0 L1533.5 266.9 L1533.9 268.0 L1534.4 270.0 L1534.9 269.9 L1535.4 270.3 L1535.9 270.6 L1536.4 270.5 L1536.9 271.1 L1537.4 270.8 L1537.9 270.3 L1538.4 270.7 L1538.8 270.7 L1539.3 271.3 L1539.8 271.0 L1540.3 270.9 L1540.8 270.8 L1541.3 270.9 L1541.8 271.3 L1542.3 270.6 L1542.8 270.9 L1543.3 271.6 L1543.8 274.0 L1544.2 274.7 L1544.7 275.6 L1545.2 275.8 L1545.7 276.0 L1546.2 275.4 L1546.7 277.1 L1547.2 277.4 L1547.7 279.3 L1548.2 277.5 L1548.7 276.5 L1549.2 277.3 L1549.7 277.8 L1550.2 277.4 L1550.7 277.0 L1551.2 277.7 L1551.7 279.9 L1552.2 278.4 L1552.7 278.6 L1553.2 277.5 L1553.7 277.3 L1554.2 276.8 L1554.7 276.2 L1555.2 276.6 L1555.7 276.4 L1556.2 277.3 L1556.7 276.1 L1557.2 274.7 L1557.7 274.6 L1558.2 273.6 L1558.8 273.8 L1559.2 273.8 L1559.7 274.8 L1560.2 274.7 L1560.6 275.0 L1561.1 275.0 L1561.6 275.5 L1562.0 276.2 L1562.5 276.1 L1563.0 274.8 L1563.4 274.3 L1563.9 274.7 L1564.4 272.3 L1564.8 269.7 L1565.3 268.9 L1565.8 267.9 L1566.2 267.2 L1566.7 266.1 L1567.2 266.4 L1567.7 266.2 L1568.2 265.0 L1568.6 266.2 L1569.1 265.4 L1569.6 265.1 L1570.0 263.9 L1570.5 264.6 L1571.0 262.5 L1571.5 262.5 L1572.0 262.2 L1572.5 261.5 L1573.0 261.7 L1573.5 261.0 L1574.1 262.1 L1574.6 259.5 L1575.1 263.9 L1575.6 261.2 L1576.1 260.2 L1576.6 260.6 L1577.1 260.3 L1577.7 258.6 L1578.2 256.1 L1578.7 253.4 L1579.2 254.8 L1579.8 252.3 L1580.3 251.2 L1580.8 253.0 L1581.2 253.7 L1581.7 252.2 L1582.2 254.1 L1582.6 254.2 L1583.1 255.0 L1583.6 255.3 L1584.1 253.1 L1584.6 251.3 L1585.1 251.9 L1585.6 250.7 L1586.1 251.0 L1586.7 250.9 L1587.2 251.7 L1587.7 251.1 L1588.2 249.1 L1588.7 247.6 L1589.2 246.9 L1589.7 246.6 L1590.2 247.1 L1590.7 248.8 L1591.2 249.3 L1591.7 249.0 L1592.2 248.5 L1592.7 251.9 L1593.2 251.2 L1593.7 250.6 L1594.2 253.1 L1594.7 252.4 L1595.2 253.7 L1595.7 255.0 L1596.2 255.0 L1596.8 254.7 L1597.3 253.8 L1597.8 253.1 L1598.3 251.1 L1598.8 248.5 L1599.3 246.1 L1599.8 245.1 L1600.2 244.1 L1600.7 241.4 L1601.2 240.1 L1601.7 238.9 L1602.2 237.6 L1602.6 238.8 L1603.1 239.8 L1603.6 236.1 L1604.1 237.5 L1604.5 237.0 L1605.0 236.7 L1605.5 232.2 L1606.1 230.1 L1606.7 224.1 L1607.2 220.0 L1607.7 216.4 L1608.2 213.4 L1608.7 217.5 L1609.1 209.7 L1609.6 207.1 L1610.1 201.0 L1610.6 200.0 L1611.1 207.3 L1611.7 210.9 L1612.2 220.0 L1612.7 220.1 L1613.1 216.9 L1613.6 214.3 L1614.1 212.1 L1614.5 210.4 L1615.0 210.0 L1615.5 212.5 L1616.1 212.7 L1616.7 216.2 L1617.2 215.6 L1617.8 214.1 L1618.3 211.8 L1618.9 211.1 L1619.4 213.0 L1619.8 213.6 L1620.3 217.9 L1620.8 222.2 L1621.2 222.2 L1621.7 225.6 L1622.2 223.3 L1622.8 224.2 L1623.4 219.2 L1623.9 218.9 L1624.4 219.5 L1624.8 220.0 L1625.3 225.1 L1625.8 225.3 L1626.2 229.1 L1626.7 230.0 L1627.2 225.3 L1627.8 228.0 L1628.3 227.5 L1628.9 223.9 L1629.4 223.3 L1629.9 221.2 L1630.4 217.1 L1630.9 215.8 L1631.3 212.9 L1631.8 213.3 L1632.3 212.3 L1632.8 208.9 L1633.3 211.6 L1633.8 208.7 L1634.3 208.9 L1634.8 208.1 L1635.2 209.2 L1635.7 208.9 L1636.2 211.8 L1636.7 211.1 L1637.2 211.7 L1637.8 213.8 L1638.3 214.4 L1638.9 215.4 L1639.4 215.6 L1639.9 218.3 L1640.4 220.1 L1640.9 221.4 L1641.4 220.2 L1641.9 223.2 L1642.4 223.9 L1642.9 219.2 L1643.4 224.1 L1643.9 224.4 L1644.4 224.8 L1644.8 229.7 L1645.3 228.2 L1645.8 228.8 L1646.3 232.5 L1646.7 232.7 L1647.2 234.4 L1647.7 231.6 L1648.2 229.4 L1648.7 229.0 L1649.2 225.4 L1649.7 221.8 L1650.2 220.3 L1650.7 218.2 L1651.2 217.0 L1651.7 215.6 L1652.2 218.6 L1652.7 220.3 L1653.2 223.0 L1653.7 224.8 L1654.2 227.7 L1654.7 227.6 L1655.2 232.0 L1655.7 234.5 L1656.2 236.0 L1656.7 238.9 L1657.2 236.1 L1657.7 234.8 L1658.2 236.6 L1658.7 234.9 L1659.2 234.0 L1659.7 231.6 L1660.2 231.1 L1660.7 230.2 L1661.2 228.4 L1661.7 227.8 L1662.2 230.7 L1662.7 230.5 L1663.2 234.2 L1663.7 234.7 L1664.2 236.3 L1664.7 236.8 L1665.2 239.6 L1665.7 239.6 L1666.2 243.0 L1666.7 242.2 L1667.2 241.5 L1667.7 238.6 L1668.2 239.5 L1668.7 237.4 L1669.2 233.7 L1669.8 234.9 L1670.3 233.6 L1670.8 231.2 L1671.3 229.9 L1671.8 227.1 L1672.3 228.4 L1672.8 225.6 L1673.3 225.9 L1673.8 228.5 L1674.3 228.7 L1674.8 227.4 L1675.2 227.7 L1675.7 228.5 L1676.2 231.3 L1676.7 230.7 L1677.2 232.2 L1677.7 231.0 L1678.2 228.1 L1678.7 224.7 L1679.2 226.2 L1679.7 225.3 L1680.2 221.2 L1680.7 221.9 L1681.2 217.9 L1681.7 217.8 L1682.2 220.7 L1682.7 220.4 L1683.2 223.4 L1683.7 223.6 L1684.1 223.5 L1684.6 223.9 L1685.1 228.6 L1685.6 228.9 L1686.1 221.7 L1686.7 210.5 L1687.2 205.9 L1687.8 197.8 L1688.3 194.2 L1688.8 191.8 L1689.3 192.8 L1689.8 190.2 L1690.2 186.9 L1690.7 185.5 L1691.2 186.7 L1691.7 184.4 L1692.2 182.8 L1692.7 178.7 L1693.2 179.4 L1693.7 175.8 L1694.1 175.6 L1694.6 173.6 L1695.1 170.5 L1695.6 166.3 L1696.1 165.6 L1696.6 164.6 L1697.0 167.5 L1697.5 165.6 L1698.0 165.9 L1698.4 166.1 L1698.9 165.6 L1699.4 172.9 L1699.8 175.3 L1700.3 183.5 L1700.8 180.7 L1701.2 184.0 L1701.7 188.9 L1702.2 185.3 L1702.7 183.6 L1703.2 183.8 L1703.7 183.0 L1704.1 180.5 L1704.6 180.6 L1705.1 175.6 L1705.6 173.6 L1706.1 173.3 L1706.7 178.2 L1707.2 181.6 L1707.8 186.7 L1708.3 175.5 L1708.9 172.5 L1709.4 166.7 L1709.9 168.7 L1710.4 167.4 L1710.9 170.4 L1711.3 166.3 L1711.8 168.8 L1712.3 166.0 L1712.8 166.9 L1713.3 170.0 L1713.8 174.1 L1714.2 176.2 L1714.7 179.1 L1715.2 181.7 L1715.6 188.8 L1716.1 187.8 L1716.6 189.2 L1717.1 187.3 L1717.6 184.9 L1718.0 185.7 L1718.5 186.3 L1719.0 187.3 L1719.5 190.6 L1720.0 189.3 L1720.5 191.2 L1720.9 189.6 L1721.4 191.8 L1721.9 191.7 L1722.3 194.2 L1722.8 193.0 L1723.2 198.4 L1723.7 201.5 L1724.1 206.7 L1724.6 211.5 L1725.1 210.8 L1725.5 210.6 L1726.0 213.7 L1726.5 213.3 L1727.0 211.0 L1727.6 212.5 L1728.1 210.7 L1728.6 208.8 L1729.1 208.5 L1729.7 203.2 L1730.2 203.1 L1730.7 206.9 L1731.3 206.1 L1731.8 211.1 L1732.3 212.2 L1732.8 214.0 L1733.4 219.2 L1733.9 220.7 L1734.4 224.3 L1734.9 216.1 L1735.4 216.7 L1735.9 217.7 L1736.5 214.4 L1737.0 211.5 L1737.5 211.1 L1738.0 209.8 L1738.5 210.6 L1739.0 208.3 L1739.5 203.0 L1739.9 201.3 L1740.4 200.4 L1740.9 198.6 L1741.5 200.8 L1742.0 198.4 L1742.5 197.1 L1743.0 199.4 L1743.6 198.2 L1744.1 197.6 L1744.6 192.7 L1745.0 191.6 L1745.5 187.9 L1746.0 183.9 L1746.4 181.0 L1746.9 179.1 L1747.3 183.7 L1747.8 187.4 L1748.2 186.1 L1748.7 184.3 L1749.1 182.7 L1749.6 178.1 L1750.1 181.5 L1750.5 178.8 L1751.0 184.2 L1751.5 179.3 L1751.9 185.2 L1752.4 189.3 L1752.9 184.7 L1753.3 185.9 L1753.8 181.8 L1754.3 179.0 L1754.7 180.9 L1755.2 176.3 L1755.7 181.2 L1756.3 180.2 L1756.8 182.9 L1757.3 189.5 L1757.8 189.9 L1758.4 191.3 L1758.9 192.0 L1759.4 188.9 L1760.0 190.3 L1760.5 191.4 L1761.0 189.1 L1761.5 188.6 L1762.1 185.7 L1762.6 183.7 L1763.0 184.5 L1763.5 183.2 L1764.0 185.5 L1764.4 185.6 L1764.9 179.0 L1765.5 178.0 L1766.0 175.2 L1766.5 170.7 L1767.0 169.9 L1767.6 164.2 L1768.1 162.4 L1768.6 163.6 L1769.1 163.0 L1769.5 163.4 L1770.0 165.9 L1770.5 164.3 L1771.0 167.1 L1771.4 169.2 L1771.8 172.8 L1772.3 179.1 L1772.8 173.9 L1773.2 170.4 L1773.7 167.9 L1774.2 165.0 L1774.7 160.6 L1775.1 155.7 L1775.6 153.1 L1776.1 153.3 L1776.7 158.4 L1777.2 156.8 L1777.8 160.6 L1778.3 163.3 L1778.8 164.4 L1779.2 165.8 L1779.7 167.6 L1780.2 168.9 L1780.7 170.0 L1781.1 167.3 L1781.6 167.9 L1782.1 165.0 L1782.5 163.1 L1783.0 162.4 L1783.5 161.6 L1784.0 161.4 L1784.5 156.4 L1785.0 154.7 L1785.6 152.2 L1786.1 152.9 L1786.6 154.9 L1787.1 152.2 L1787.6 153.8 L1788.0 154.3 L1788.5 157.8 L1788.9 154.6 L1789.4 157.8 L1789.9 162.8 L1790.4 168.9" fill="none" stroke="#1C2866" stroke-width="2.8" stroke-linejoin="round" stroke-linecap="butt"/>
<text x="591.5" y="67.8" font-size="21" font-weight="700" textLength="193.5" lengthAdjust="spacingAndGlyphs" stroke="#0B0B0B" stroke-width="0.35" fill="#0B0B0B">Crypto market cap</text>
<text x="785.0" y="58.8" font-size="13.5" font-weight="700" stroke="#0B0B0B" stroke-width="0.3" fill="#0B0B0B">1</text>
<text x="591.5" y="400.0" font-size="21" font-weight="700" textLength="193.0" lengthAdjust="spacingAndGlyphs" stroke="#0B0B0B" stroke-width="0.35" fill="#0B0B0B">Crypto developers</text>
<text x="785.0" y="391.0" font-size="13.5" font-weight="700" stroke="#0B0B0B" stroke-width="0.3" fill="#0B0B0B">2</text>
<text x="591.5" y="736.0" font-size="21" font-weight="700" textLength="278.5" lengthAdjust="spacingAndGlyphs" stroke="#0B0B0B" stroke-width="0.35" fill="#0B0B0B">Crypto mobile wallet users</text>
<text x="870.0" y="727.0" font-size="13.5" font-weight="700" stroke="#0B0B0B" stroke-width="0.3" fill="#0B0B0B">3</text>
<rect x="807.3" y="378.4" width="126" height="29.2" rx="5.5" fill="#E5613E"/>
<rect x="810.1" y="380.7" width="24.6" height="24.4" rx="3.8" fill="#F4D8CB"/>
<path d="M817.7 397.4 L826.3 389.2 M819.3 389.4 H827.2 V396.6" stroke="#D95E4C" stroke-width="2.5" fill="none"/>
<text x="840.6" y="398.1" font-size="15.2" font-weight="700" textLength="82.5" lengthAdjust="spacingAndGlyphs" stroke="#FFF4EE" stroke-width="0.3" fill="#FFF4EE">VIEW LIVE</text>
<rect x="840.6" y="400.0" width="82.2" height="1.6" fill="#FFF4EE"/>
<rect x="891.5" y="712.6" width="126" height="29.2" rx="5.5" fill="#E5613E"/>
<rect x="894.3" y="714.9" width="24.6" height="24.4" rx="3.8" fill="#F4D8CB"/>
<path d="M901.9 731.6 L910.5 723.4 M903.5 723.6 H911.4 V730.8" stroke="#D95E4C" stroke-width="2.5" fill="none"/>
<text x="924.8" y="732.3" font-size="15.2" font-weight="700" textLength="82.5" lengthAdjust="spacingAndGlyphs" stroke="#FFF4EE" stroke-width="0.3" fill="#FFF4EE">VIEW LIVE</text>
<rect x="924.8" y="734.2" width="82.2" height="1.6" fill="#FFF4EE"/>
<text x="631" y="325.0" font-size="14" text-anchor="end" fill="#151515">$0</text>
<text x="631" y="285.3" font-size="14" text-anchor="end" fill="#151515">$1T</text>
<text x="631" y="246.4" font-size="14" text-anchor="end" fill="#151515">$2T</text>
<text x="631" y="207.5" font-size="14" text-anchor="end" fill="#151515">$3T</text>
<text x="631" y="168.6" font-size="14" text-anchor="end" fill="#151515">$4T</text>
<text x="631" y="129.5" font-size="14" text-anchor="end" fill="#151515">$5T</text>
<text x="631" y="662.0" font-size="14" text-anchor="end" fill="#151515">0</text>
<text x="631" y="606.0" font-size="14" text-anchor="end" fill="#151515">10K</text>
<text x="631" y="549.5" font-size="14" text-anchor="end" fill="#151515">20K</text>
<text x="631" y="492.3" font-size="14" text-anchor="end" fill="#151515">30K</text>
<text x="631" y="440.7" font-size="14" text-anchor="end" fill="#151515">40K</text>
<text x="631" y="962.6" font-size="14" text-anchor="end" fill="#151515">0</text>
<text x="631" y="897.3" font-size="14" text-anchor="end" fill="#151515">20M</text>
<text x="631" y="832.0" font-size="14" text-anchor="end" fill="#151515">40M</text>
<text x="631" y="770.3" font-size="14" text-anchor="end" fill="#151515">60M</text>
<text x="665.8" y="991.8" font-size="18.6" text-anchor="middle" fill="#151515">2016</text>
<text x="781.6" y="991.8" font-size="18.6" text-anchor="middle" fill="#151515">2017</text>
<text x="897.4" y="991.8" font-size="18.6" text-anchor="middle" fill="#151515">2018</text>
<text x="1013.1" y="991.8" font-size="18.6" text-anchor="middle" fill="#151515">2019</text>
<text x="1128.9" y="991.8" font-size="18.6" text-anchor="middle" fill="#151515">2020</text>
<text x="1244.7" y="991.8" font-size="18.6" text-anchor="middle" fill="#151515">2021</text>
<text x="1360.5" y="991.8" font-size="18.6" text-anchor="middle" fill="#151515">2022</text>
<text x="1476.2" y="991.8" font-size="18.6" text-anchor="middle" fill="#151515">2023</text>
<text x="1592.0" y="991.8" font-size="18.6" text-anchor="middle" fill="#151515">2024</text>
<text x="1707.8" y="991.8" font-size="18.6" text-anchor="middle" fill="#151515">2025</text>
<line x1="1817" y1="169" x2="1862" y2="169" stroke="#111" stroke-width="2"/>
<polygon points="1859,164.5 1871.5,169 1859,173.5" fill="#111"/>
<rect x="1186.2" y="354.0" width="221.0" height="77.4" rx="13" fill="#2455D9"/>
<text x="1296.7" y="379.3" font-size="15.6" font-style="italic" letter-spacing="0.78" text-anchor="middle" fill="#FFFFFF"><tspan font-weight="700">DeFi</tspan> &amp; <tspan font-weight="700">NFTs</tspan></text>
<text x="1296.7" y="398.6" font-size="15.6" font-style="italic" letter-spacing="0.78" text-anchor="middle" fill="#FFFFFF">had an outsized</text>
<text x="1296.7" y="417.9" font-size="15.6" font-style="italic" letter-spacing="0.78" text-anchor="middle" fill="#FFFFFF">impact on developers</text>
<rect x="1696.2" y="351.0" width="175.0" height="114.0" rx="13" fill="#2455D9"/>
<text x="1783.7" y="375.0" font-size="15.6" font-style="italic" letter-spacing="0.78" text-anchor="middle" fill="#FFFFFF"><tspan font-weight="700">Regulation &amp;</tspan></text>
<text x="1783.7" y="394.3" font-size="15.6" font-style="italic" letter-spacing="0.78" text-anchor="middle" fill="#FFFFFF"><tspan font-weight="700">stablecoins</tspan> could</text>
<text x="1783.7" y="413.6" font-size="15.6" font-style="italic" letter-spacing="0.78" text-anchor="middle" fill="#FFFFFF">have an outsized</text>
<text x="1783.7" y="432.9" font-size="15.6" font-style="italic" letter-spacing="0.78" text-anchor="middle" fill="#FFFFFF">impact on</text>
<text x="1783.7" y="452.2" font-size="15.6" font-style="italic" letter-spacing="0.78" text-anchor="middle" fill="#FFFFFF">developers</text>
<rect x="1587.2" y="698.7" width="147.7" height="91.6" rx="13" fill="#6923EC"/>
<text x="1661.0" y="720.6" font-size="15.6" font-style="italic" letter-spacing="0.78" text-anchor="middle" fill="#FFFFFF"><tspan font-weight="700">ETFs &amp;</tspan></text>
<text x="1661.0" y="739.9" font-size="15.6" font-style="italic" letter-spacing="0.78" text-anchor="middle" fill="#FFFFFF"><tspan font-weight="700">memecoins</tspan></text>
<text x="1661.0" y="759.2" font-size="15.6" font-style="italic" letter-spacing="0.78" text-anchor="middle" fill="#FFFFFF">had an outsized</text>
<text x="1661.0" y="778.5" font-size="15.6" font-style="italic" letter-spacing="0.78" text-anchor="middle" fill="#FFFFFF">impact on users</text>
<text x="591.8" y="1049.2" font-size="19.6" textLength="673" lengthAdjust="spacingAndGlyphs" fill="#151515">Sources: 1/ CoinGecko, 2/ Electric Capital Developer Report, 3/ SensorTower</text>
<text x="1488.6" y="1049" font-size="20" textLength="107" lengthAdjust="spacingAndGlyphs" fill="#151515">©2025 a16z</text>
<rect x="1602.6" y="1030.5" width="1.7" height="22.3" fill="#151515"/>
<text x="1611.2" y="1049" font-size="20" textLength="257.5" lengthAdjust="spacingAndGlyphs" fill="#151515">All rights reserved worldwide</text>
<g fill="none" stroke="#111" stroke-width="3.0">
<circle cx="56.8" cy="1042.8" r="5.55"/>
<circle cx="78.1" cy="1043.2" r="5.2"/>
<path d="M82.0 1031.4 L73.4 1041.6"/>
<path d="M108.73 1040.03 A5.35 5.35 0 1 0 108.73 1045.38"/>
<path d="M122.6 1036 L127.8 1049.3 M132.2 1036 L125 1052.6 L122 1052.6"/>
<circle cx="142.6" cy="1042.9" r="5.4"/>
<circle cx="165.3" cy="1042.9" r="5.4"/>
</g>
<g fill="#111">
<rect x="61.2" y="1035.6" width="3" height="14.2"/>
<rect x="65.8" y="1031" width="3.2" height="18.8"/><rect x="63.6" y="1031" width="2.5" height="2.4"/>
<rect x="85.8" y="1036" width="10.1" height="2.7"/><rect x="85.8" y="1047.1" width="10.1" height="2.7"/>
<polygon points="92.4,1038.6 95.9,1038.6 89.3,1047.2 85.8,1047.2"/>
<rect x="112.7" y="1036.3" width="3" height="13.5"/><rect x="112.7" y="1036.3" width="6" height="2.7"/>
<rect x="135.4" y="1036" width="3" height="18.2"/>
<rect x="151.8" y="1031" width="3" height="18.8"/><rect x="150" y="1036.2" width="7.6" height="2.4"/><rect x="151.8" y="1047.4" width="5.8" height="2.4"/>
</g>
</svg></body></html>
